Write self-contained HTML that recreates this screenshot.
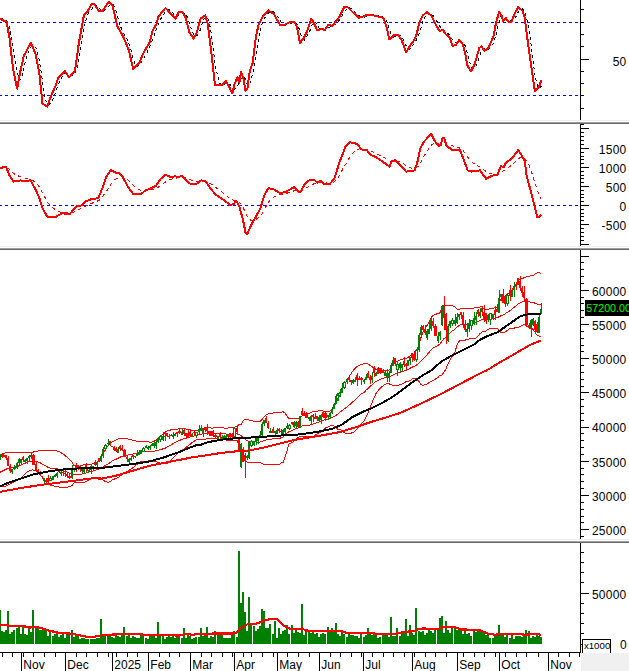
<!DOCTYPE html>
<html><head><meta charset="utf-8"><title>chart</title>
<style>
html,body{margin:0;padding:0;background:#fff;}
body{width:629px;height:671px;overflow:hidden;font-family:"Liberation Sans",sans-serif;}
svg{display:block;font-family:"Liberation Sans",sans-serif;}
</style></head><body>
<svg width="629" height="671" viewBox="0 0 629 671" shape-rendering="crispEdges">
<rect x="0" y="0" width="629" height="671" fill="#fff"/>
<rect x="0" y="120" width="629" height="1" fill="#f0f0f0"/>
<rect x="0" y="121" width="629" height="1" fill="#ffffff"/>
<rect x="0" y="122" width="629" height="1" fill="#a0a0a0"/>
<rect x="0" y="123" width="629" height="1" fill="#696969"/>
<rect x="0" y="246" width="629" height="1" fill="#f0f0f0"/>
<rect x="0" y="247" width="629" height="1" fill="#ffffff"/>
<rect x="0" y="248" width="629" height="1" fill="#a0a0a0"/>
<rect x="0" y="249" width="629" height="1" fill="#696969"/>
<rect x="0" y="539" width="629" height="1" fill="#f0f0f0"/>
<rect x="0" y="540" width="629" height="1" fill="#ffffff"/>
<rect x="0" y="541" width="629" height="1" fill="#a0a0a0"/>
<rect x="0" y="542" width="629" height="1" fill="#696969"/>
<rect x="580" y="0" width="1" height="120" fill="#000"/>
<rect x="581" y="9" width="3" height="1" fill="#000"/>
<rect x="581" y="22" width="3" height="1" fill="#000"/>
<rect x="581" y="34" width="3" height="1" fill="#000"/>
<rect x="581" y="46" width="3" height="1" fill="#000"/>
<rect x="581" y="71" width="3" height="1" fill="#000"/>
<rect x="581" y="83" width="3" height="1" fill="#000"/>
<rect x="581" y="95" width="3" height="1" fill="#000"/>
<rect x="581" y="108" width="3" height="1" fill="#000"/>
<rect x="581" y="59" width="8" height="1" fill="#000"/>
<text x="626.55" y="65.6" font-size="12" text-anchor="end" fill="#000"  letter-spacing="0.25">50</text>
<line x1="0" y1="22.5" x2="580" y2="22.5" stroke="#0000ff" stroke-width="1" stroke-dasharray="3 3" stroke-dashoffset="1"/>
<line x1="0" y1="95.5" x2="580" y2="95.5" stroke="#0000ff" stroke-width="1" stroke-dasharray="3 3" stroke-dashoffset="1"/>
<polyline points="0.5,18.6 2.5,19.0 4.5,19.7 6.5,20.7 8.5,23.9 10.5,31.2 12.5,43.9 14.5,58.6 17.5,73.7 19.5,80.0 21.5,78.3 23.5,68.9 25.5,60.6 27.5,54.4 29.5,50.0 31.5,46.2 33.5,45.5 36.5,48.7 38.5,56.7 40.5,67.4 42.5,81.7 44.5,94.4 46.5,103.1 48.5,105.0 50.5,103.1 53.5,98.3 55.5,92.5 57.5,86.7 59.5,81.9 61.5,77.8 63.5,74.9 65.5,73.1 67.5,72.8 69.5,74.2 72.5,75.2 74.5,74.4 76.5,69.9 78.5,61.6 80.5,50.0 82.5,37.4 84.5,26.1 86.5,18.3 88.5,13.1 91.5,9.7 93.5,6.5 95.5,4.8 97.5,5.9 99.5,8.3 101.5,10.2 103.5,11.0 105.5,9.7 108.5,6.9 110.5,4.5 112.5,3.8 114.5,6.9 116.5,12.7 118.5,20.0 120.5,26.3 122.5,30.9 124.5,34.7 127.5,39.6 129.5,45.1 131.5,52.1 133.5,59.6 135.5,64.9 137.5,66.7 139.5,64.9 141.5,62.2 143.5,58.6 146.5,53.8 148.5,49.3 150.5,45.2 152.5,39.9 154.5,34.3 156.5,28.7 158.5,23.8 160.5,19.2 163.5,14.5 165.5,11.4 167.5,9.7 169.5,9.9 171.5,11.7 173.5,13.8 175.5,16.0 177.5,16.5 179.5,15.3 182.5,13.3 184.5,13.1 186.5,15.2 188.5,20.1 190.5,26.2 192.5,32.1 194.5,35.7 196.5,36.1 199.5,32.1 201.5,25.7 203.5,19.9 205.5,17.0 207.5,18.0 209.5,23.6 211.5,34.9 213.5,50.3 215.5,67.3 218.5,79.1 220.5,85.0 222.5,85.1 224.5,84.3 226.5,83.1 228.5,83.0 230.5,84.9 232.5,88.8 234.5,89.3 237.5,86.0 239.5,82.3 241.5,77.5 243.5,77.1 245.5,79.2 247.5,85.0 249.5,84.8 251.5,78.0 254.5,65.6 256.5,52.2 258.5,38.7 260.5,28.6 262.5,22.5 264.5,18.3 266.5,15.2 268.5,12.8 270.5,11.7 273.5,11.9 275.5,13.7 277.5,16.4 279.5,19.6 281.5,22.7 283.5,24.6 285.5,25.1 287.5,24.6 289.5,23.6 292.5,22.8 294.5,22.3 296.5,23.1 298.5,26.7 300.5,33.6 302.5,38.7 304.5,40.2 306.5,37.0 309.5,32.1 311.5,26.0 313.5,22.0 315.5,22.0 317.5,25.6 319.5,28.5 321.5,29.7 323.5,29.5 325.5,29.5 328.5,28.1 330.5,26.8 332.5,25.4 334.5,24.9 336.5,23.5 338.5,21.1 340.5,18.4 342.5,15.2 344.5,11.4 347.5,8.7 349.5,7.7 351.5,8.7 353.5,10.4 355.5,12.4 357.5,14.2 359.5,16.0 361.5,17.0 364.5,17.0 366.5,16.2 368.5,15.6 370.5,15.2 372.5,15.0 374.5,15.1 376.5,15.5 378.5,16.0 380.5,16.5 383.5,17.1 385.5,19.0 387.5,23.1 389.5,29.7 391.5,34.9 393.5,37.1 395.5,36.1 397.5,35.0 400.5,35.6 402.5,37.7 404.5,41.8 406.5,46.6 408.5,49.3 410.5,49.0 412.5,45.9 414.5,43.1 416.5,39.7 419.5,33.2 421.5,26.1 423.5,19.4 425.5,16.0 427.5,13.6 429.5,13.1 431.5,13.7 433.5,16.1 435.5,19.3 438.5,23.6 440.5,27.5 442.5,29.8 444.5,30.8 446.5,32.1 448.5,34.0 450.5,36.4 452.5,39.7 455.5,42.8 457.5,44.4 459.5,42.9 461.5,41.9 463.5,42.6 465.5,46.6 467.5,53.7 469.5,61.4 471.5,67.7 474.5,68.4 476.5,65.5 478.5,59.2 480.5,53.2 482.5,49.0 484.5,48.3 486.5,49.0 488.5,49.5 490.5,47.4 493.5,43.3 495.5,36.7 497.5,28.3 499.5,20.0 501.5,15.4 503.5,15.8 505.5,17.9 507.5,19.7 510.5,20.1 512.5,20.6 514.5,19.0 516.5,15.6 518.5,11.4 520.5,9.2 522.5,8.9 524.5,11.7 526.5,18.1 529.5,31.4 531.5,47.7 533.5,64.4 535.5,78.0 537.5,86.1 539.5,89.0 541.5,85.7" fill="none" stroke="#000" stroke-width="1" stroke-dasharray="3 3"/>
<polyline points="0.0,18.6 2.9,20.3 6.7,21.9 9.5,38.2 13.1,69.2 17.2,88.7 20.3,71.5 23.8,56.0 31.0,42.5 35.8,54.9 39.4,73.9 42.5,103.7 47.2,106.6 51.3,95.4 56.0,84.7 58.4,77.5 64.9,71.1 69.2,77.5 75.1,70.4 78.7,44.1 83.9,15.5 87.0,12.4 91.8,3.6 94.2,4.3 99.0,11.2 102.6,11.2 108.5,1.9 112.6,6.0 117.3,26.2 122.8,35.8 128.8,50.1 133.1,68.7 139.5,62.5 143.1,53.7 150.0,41.7 152.4,31.0 156.7,23.8 158.3,16.7 165.5,7.9 170.3,13.1 175.5,18.6 178.6,12.4 182.2,11.9 185.8,17.9 189.4,32.2 193.4,38.6 196.5,33.4 200.6,18.6 205.3,15.5 207.7,23.8 210.8,47.7 214.9,84.7 221.5,85.4 225.8,81.1 228.7,85.9 232.3,93.5 234.7,83.5 237.5,77.5 239.4,83.0 241.1,71.5 243.5,78.7 245.4,90.6 247.3,89.4 249.7,71.5 252.6,63.2 256.1,35.8 258.5,25.0 263.3,15.5 268.5,10.3 274.0,14.3 280.0,25.0 283.6,25.5 289.5,22.2 294.3,22.2 296.7,26.2 300.0,42.9 303.6,38.2 307.2,31.0 311.2,18.6 313.8,22.7 317.2,30.5 321.5,29.1 325.0,29.8 328.1,25.0 332.2,25.8 335.8,21.5 339.4,16.7 344.1,7.2 347.7,7.2 353.7,13.1 359.1,17.9 365.6,15.5 371.5,14.8 378.7,16.7 383.5,17.9 386.3,26.2 389.4,39.4 394.2,34.6 397.8,34.6 401.4,39.4 406.1,52.5 410.2,45.3 414.0,40.5 416.9,33.4 419.2,22.7 422.8,15.5 426.9,11.9 431.2,15.5 434.7,22.7 439.5,31.0 442.9,29.8 446.0,34.6 449.5,37.0 452.4,45.8 455.5,45.3 459.1,40.1 462.7,44.1 465.0,52.5 467.4,65.6 471.0,71.5 474.6,64.4 479.4,47.7 481.7,46.5 484.1,50.6 487.7,48.9 490.1,44.1 493.7,35.8 496.0,22.7 499.1,11.9 501.5,15.5 503.2,21.0 505.6,17.9 508.0,21.5 511.5,21.5 514.4,14.3 518.2,7.2 522.3,10.7 524.7,17.9 527.0,35.8 530.6,62.0 534.9,91.1 539.0,87.0 541.4,79.9" fill="none" stroke="#ff0000" stroke-width="2" stroke-linejoin="round"/>
<rect x="580" y="124" width="1" height="122" fill="#000"/>
<rect x="581" y="244" width="8" height="1" fill="#000"/>
<rect x="581" y="240" width="3" height="1" fill="#000"/>
<rect x="581" y="236" width="3" height="1" fill="#000"/>
<rect x="581" y="232" width="3" height="1" fill="#000"/>
<rect x="581" y="228" width="3" height="1" fill="#000"/>
<rect x="581" y="224" width="8" height="1" fill="#000"/>
<rect x="581" y="220" width="3" height="1" fill="#000"/>
<rect x="581" y="216" width="3" height="1" fill="#000"/>
<rect x="581" y="213" width="3" height="1" fill="#000"/>
<rect x="581" y="209" width="3" height="1" fill="#000"/>
<rect x="581" y="205" width="8" height="1" fill="#000"/>
<rect x="581" y="201" width="3" height="1" fill="#000"/>
<rect x="581" y="197" width="3" height="1" fill="#000"/>
<rect x="581" y="194" width="3" height="1" fill="#000"/>
<rect x="581" y="190" width="3" height="1" fill="#000"/>
<rect x="581" y="186" width="8" height="1" fill="#000"/>
<rect x="581" y="182" width="3" height="1" fill="#000"/>
<rect x="581" y="178" width="3" height="1" fill="#000"/>
<rect x="581" y="175" width="3" height="1" fill="#000"/>
<rect x="581" y="171" width="3" height="1" fill="#000"/>
<rect x="581" y="167" width="8" height="1" fill="#000"/>
<rect x="581" y="163" width="3" height="1" fill="#000"/>
<rect x="581" y="159" width="3" height="1" fill="#000"/>
<rect x="581" y="156" width="3" height="1" fill="#000"/>
<rect x="581" y="152" width="3" height="1" fill="#000"/>
<rect x="581" y="148" width="8" height="1" fill="#000"/>
<rect x="581" y="144" width="3" height="1" fill="#000"/>
<rect x="581" y="140" width="3" height="1" fill="#000"/>
<rect x="581" y="136" width="3" height="1" fill="#000"/>
<rect x="581" y="132" width="3" height="1" fill="#000"/>
<rect x="581" y="128" width="8" height="1" fill="#000"/>
<rect x="581" y="124" width="3" height="1" fill="#000"/>
<text x="626.55" y="153.7" font-size="12" text-anchor="end" fill="#000"  letter-spacing="0.25">1500</text>
<text x="626.55" y="172.7" font-size="12" text-anchor="end" fill="#000"  letter-spacing="0.25">1000</text>
<text x="626.55" y="191.7" font-size="12" text-anchor="end" fill="#000"  letter-spacing="0.25">500</text>
<text x="626.55" y="210.7" font-size="12" text-anchor="end" fill="#000"  letter-spacing="0.25">0</text>
<text x="626.55" y="229.7" font-size="12" text-anchor="end" fill="#000"  letter-spacing="0.25">-500</text>
<line x1="0" y1="205.5" x2="580" y2="205.5" stroke="#0000ff" stroke-width="1" stroke-dasharray="3 3" stroke-dashoffset="1"/>
<polyline points="0.0,167.7 2.0,167.7 4.0,167.6 6.0,167.4 8.0,168.3 10.0,169.9 12.0,171.8 14.0,173.7 17.0,175.2 19.0,176.3 21.0,177.1 23.0,177.9 25.0,178.4 27.0,178.9 29.0,179.2 31.0,179.6 33.0,180.7 36.0,182.6 38.0,185.1 40.0,188.1 42.0,191.8 44.0,195.6 46.0,199.4 48.0,202.9 50.0,205.6 53.0,207.8 55.0,209.6 57.0,210.9 59.0,211.7 61.0,212.2 63.0,212.4 65.0,212.6 67.0,212.9 69.0,213.2 72.0,212.9 74.0,212.1 76.0,211.1 78.0,210.0 80.0,209.1 82.0,208.3 84.0,207.2 86.0,206.0 88.0,204.9 91.0,203.8 93.0,202.8 95.0,202.0 97.0,201.3 99.0,200.3 101.0,198.6 103.0,196.1 105.0,193.0 108.0,189.2 110.0,185.7 112.0,182.7 114.0,180.5 116.0,178.9 118.0,177.8 120.0,177.0 122.0,176.8 124.0,177.3 127.0,178.9 129.0,180.8 131.0,182.8 133.0,184.9 135.0,186.8 137.0,188.3 139.0,189.5 141.0,190.4 143.0,190.8 146.0,190.7 148.0,190.5 150.0,190.1 152.0,189.7 154.0,189.1 156.0,188.5 158.0,187.3 160.0,185.9 163.0,184.1 165.0,182.3 167.0,181.0 169.0,180.0 171.0,179.4 173.0,178.8 175.0,178.4 177.0,178.0 179.0,177.8 182.0,177.4 184.0,177.4 186.0,177.9 188.0,178.7 190.0,179.7 192.0,180.5 194.0,181.2 196.0,181.7 199.0,181.8 201.0,181.6 203.0,181.4 205.0,181.3 207.0,181.7 209.0,182.6 211.0,183.9 213.0,185.4 215.0,187.1 218.0,188.9 220.0,190.6 222.0,192.2 224.0,193.8 226.0,195.4 228.0,197.0 230.0,198.6 232.0,199.7 234.0,200.5 237.0,200.8 239.0,201.9 241.0,204.0 243.0,207.2 245.0,211.7 247.0,216.2 249.0,219.0 251.0,220.3 254.0,220.2 256.0,219.4 258.0,218.1 260.0,216.4 262.0,213.7 264.0,210.2 266.0,206.6 268.0,203.1 270.0,200.2 273.0,198.0 275.0,196.4 277.0,195.4 279.0,194.8 281.0,194.4 283.0,194.0 285.0,193.6 287.0,193.2 289.0,192.5 292.0,191.7 294.0,190.8 296.0,190.3 298.0,190.4 300.0,190.8 302.0,190.5 304.0,189.5 306.0,188.2 309.0,186.6 311.0,185.3 313.0,184.2 315.0,183.4 317.0,183.3 319.0,182.9 321.0,182.6 323.0,182.7 325.0,182.9 328.0,183.1 330.0,183.3 332.0,182.9 334.0,182.0 336.0,180.3 338.0,177.7 340.0,174.3 342.0,170.6 344.0,166.6 347.0,162.3 349.0,158.5 351.0,155.3 353.0,152.8 355.0,151.0 357.0,149.5 359.0,148.9 361.0,148.8 364.0,149.0 366.0,149.2 368.0,149.7 370.0,150.6 372.0,151.6 374.0,152.6 376.0,153.5 378.0,154.5 380.0,155.6 383.0,156.8 385.0,158.1 387.0,159.5 389.0,160.8 391.0,161.3 393.0,161.2 395.0,161.1 397.0,161.2 400.0,161.9 402.0,162.9 404.0,164.1 406.0,165.6 408.0,166.8 410.0,167.6 412.0,168.2 414.0,168.7 416.0,168.2 419.0,165.5 421.0,161.8 423.0,158.1 425.0,154.6 427.0,151.4 429.0,148.3 431.0,145.5 433.0,143.9 435.0,143.4 438.0,143.8 440.0,144.2 442.0,143.3 444.0,142.3 446.0,142.8 448.0,143.7 450.0,144.6 452.0,145.6 455.0,146.5 457.0,147.1 459.0,147.6 461.0,148.6 463.0,150.5 465.0,153.0 467.0,156.1 469.0,159.1 471.0,161.5 474.0,163.5 476.0,165.0 478.0,166.1 480.0,167.0 482.0,168.2 484.0,169.8 486.0,171.6 488.0,172.8 490.0,173.6 493.0,174.0 495.0,174.2 497.0,174.4 499.0,173.7 501.0,172.2 503.0,171.2 505.0,169.8 507.0,168.3 510.0,166.5 512.0,164.8 514.0,163.0 516.0,161.0 518.0,158.9 520.0,157.6 522.0,157.3 524.0,157.7 526.0,160.3 529.0,165.2 531.0,170.5 533.0,176.5 535.0,182.8 537.0,189.5 539.0,195.0 541.0,199.0" fill="none" stroke="#ff0000" stroke-width="1" stroke-dasharray="3.6 3.4"/>
<polyline points="0.0,168.5 2.9,167.3 6.0,166.8 9.5,175.7 13.8,181.6 20.3,180.4 23.8,180.9 30.5,180.4 35.8,190.0 39.4,198.3 42.9,209.0 47.2,216.7 56.0,216.7 62.5,213.1 69.2,214.5 76.8,206.0 81.1,205.5 85.9,201.4 91.8,199.0 98.3,198.3 102.6,187.6 106.1,176.9 110.9,170.2 115.7,172.6 119.2,173.3 122.8,176.9 127.6,186.4 133.6,194.3 140.7,194.3 145.5,190.4 150.0,188.8 156.0,185.9 160.7,178.8 165.5,174.9 170.3,176.9 175.0,176.4 178.6,176.9 182.2,175.7 189.4,183.5 196.5,184.0 201.3,180.4 205.3,180.9 210.8,188.8 215.6,194.7 221.5,198.3 229.9,204.8 233.5,204.3 236.3,200.7 239.4,206.7 243.0,219.8 245.4,232.2 247.3,234.1 251.4,224.6 256.1,216.2 260.2,209.0 264.5,194.7 268.5,188.1 274.0,189.5 280.0,193.1 285.9,191.9 294.3,186.9 300.0,192.6 304.8,184.0 309.5,180.0 314.3,179.7 317.2,182.8 320.3,180.7 324.3,184.0 329.8,184.0 334.6,178.0 339.4,162.5 345.3,147.0 350.1,142.3 357.2,143.9 361.5,149.4 366.8,150.1 370.4,154.9 376.3,157.3 382.3,161.4 389.4,166.6 391.8,161.4 395.4,160.2 401.4,166.1 406.1,171.6 414.5,170.4 417.3,162.5 420.4,148.2 424.0,141.6 431.2,133.9 434.7,141.1 438.3,145.8 440.7,145.4 442.4,138.2 444.3,138.2 446.2,145.8 452.7,150.1 459.8,149.4 463.4,159.0 467.7,170.4 471.7,171.6 480.1,170.4 486.0,178.8 492.0,175.7 497.5,174.9 500.8,166.1 503.5,167.3 505.8,163.0 512.3,157.8 518.2,150.1 521.8,155.4 524.9,161.4 526.6,175.7 531.4,193.5 534.9,207.9 537.3,217.4 539.7,216.9 541.4,214.5" fill="none" stroke="#ff0000" stroke-width="2" stroke-linejoin="round"/>
<rect x="580" y="250" width="1" height="289" fill="#000"/>
<rect x="581" y="536" width="3" height="1" fill="#000"/>
<rect x="581" y="529" width="8" height="1" fill="#000"/>
<rect x="581" y="522" width="3" height="1" fill="#000"/>
<rect x="581" y="516" width="3" height="1" fill="#000"/>
<rect x="581" y="509" width="3" height="1" fill="#000"/>
<rect x="581" y="502" width="3" height="1" fill="#000"/>
<rect x="581" y="495" width="8" height="1" fill="#000"/>
<rect x="581" y="488" width="3" height="1" fill="#000"/>
<rect x="581" y="481" width="3" height="1" fill="#000"/>
<rect x="581" y="474" width="3" height="1" fill="#000"/>
<rect x="581" y="468" width="3" height="1" fill="#000"/>
<rect x="581" y="461" width="8" height="1" fill="#000"/>
<rect x="581" y="454" width="3" height="1" fill="#000"/>
<rect x="581" y="447" width="3" height="1" fill="#000"/>
<rect x="581" y="440" width="3" height="1" fill="#000"/>
<rect x="581" y="433" width="3" height="1" fill="#000"/>
<rect x="581" y="427" width="8" height="1" fill="#000"/>
<rect x="581" y="420" width="3" height="1" fill="#000"/>
<rect x="581" y="413" width="3" height="1" fill="#000"/>
<rect x="581" y="406" width="3" height="1" fill="#000"/>
<rect x="581" y="399" width="3" height="1" fill="#000"/>
<rect x="581" y="392" width="8" height="1" fill="#000"/>
<rect x="581" y="386" width="3" height="1" fill="#000"/>
<rect x="581" y="379" width="3" height="1" fill="#000"/>
<rect x="581" y="372" width="3" height="1" fill="#000"/>
<rect x="581" y="365" width="3" height="1" fill="#000"/>
<rect x="581" y="358" width="8" height="1" fill="#000"/>
<rect x="581" y="351" width="3" height="1" fill="#000"/>
<rect x="581" y="345" width="3" height="1" fill="#000"/>
<rect x="581" y="338" width="3" height="1" fill="#000"/>
<rect x="581" y="331" width="3" height="1" fill="#000"/>
<rect x="581" y="324" width="8" height="1" fill="#000"/>
<rect x="581" y="317" width="3" height="1" fill="#000"/>
<rect x="581" y="310" width="3" height="1" fill="#000"/>
<rect x="581" y="303" width="3" height="1" fill="#000"/>
<rect x="581" y="297" width="3" height="1" fill="#000"/>
<rect x="581" y="290" width="8" height="1" fill="#000"/>
<rect x="581" y="283" width="3" height="1" fill="#000"/>
<rect x="581" y="276" width="3" height="1" fill="#000"/>
<rect x="581" y="269" width="3" height="1" fill="#000"/>
<rect x="581" y="262" width="3" height="1" fill="#000"/>
<rect x="581" y="256" width="8" height="1" fill="#000"/>
<text x="626.55" y="534.9999999999999" font-size="12" text-anchor="end" fill="#000"  letter-spacing="0.25">25000</text>
<text x="626.55" y="500.79999999999995" font-size="12" text-anchor="end" fill="#000"  letter-spacing="0.25">30000</text>
<text x="626.55" y="466.59999999999997" font-size="12" text-anchor="end" fill="#000"  letter-spacing="0.25">35000</text>
<text x="626.55" y="432.4" font-size="12" text-anchor="end" fill="#000"  letter-spacing="0.25">40000</text>
<text x="626.55" y="398.19999999999993" font-size="12" text-anchor="end" fill="#000"  letter-spacing="0.25">45000</text>
<text x="626.55" y="363.99999999999994" font-size="12" text-anchor="end" fill="#000"  letter-spacing="0.25">50000</text>
<text x="626.55" y="329.79999999999995" font-size="12" text-anchor="end" fill="#000"  letter-spacing="0.25">55000</text>
<text x="626.55" y="295.59999999999997" font-size="12" text-anchor="end" fill="#000"  letter-spacing="0.25">60000</text>
<polyline points="0.0,457.8 2.0,455.5 4.0,453.7 6.0,452.4 8.0,452.2 10.0,452.4 12.0,452.5 14.0,452.6 17.0,452.6 19.0,452.2 21.0,452.0 23.0,452.1 25.0,452.4 27.0,452.7 29.0,452.5 31.0,452.0 33.0,452.1 36.0,451.5 38.0,451.0 40.0,450.6 42.0,450.5 44.0,450.5 46.0,450.5 48.0,450.7 50.0,450.7 53.0,450.7 55.0,450.7 57.0,450.9 59.0,451.5 61.0,452.7 63.0,454.0 65.0,455.5 67.0,457.1 69.0,459.3 72.0,462.0 74.0,465.7 76.0,466.7 78.0,466.4 80.0,466.0 82.0,465.4 84.0,464.7 86.0,464.3 88.0,464.2 91.0,464.2 93.0,463.8 95.0,463.2 97.0,462.3 99.0,460.8 101.0,458.4 103.0,454.2 105.0,449.9 108.0,445.9 110.0,443.5 112.0,442.2 114.0,441.0 116.0,440.2 118.0,439.1 120.0,438.3 122.0,438.0 124.0,438.3 127.0,438.7 129.0,439.2 131.0,439.7 133.0,440.3 135.0,440.8 137.0,441.4 139.0,441.9 141.0,442.0 143.0,441.7 146.0,441.3 148.0,441.7 150.0,442.3 152.0,442.0 154.0,441.3 156.0,440.1 158.0,438.2 160.0,436.1 163.0,434.2 165.0,432.4 167.0,431.1 169.0,430.4 171.0,429.9 173.0,429.5 175.0,429.2 177.0,429.1 179.0,428.9 182.0,428.6 184.0,428.7 186.0,429.0 188.0,429.2 190.0,429.9 192.0,430.4 194.0,430.6 196.0,431.0 199.0,430.5 201.0,429.4 203.0,428.6 205.0,428.1 207.0,427.8 209.0,427.9 211.0,428.0 213.0,428.0 215.0,427.9 218.0,427.9 220.0,427.8 222.0,427.8 224.0,428.0 226.0,428.0 228.0,428.0 230.0,427.9 232.0,427.9 234.0,427.1 237.0,426.9 239.0,424.2 241.0,424.7 243.0,420.9 245.0,419.2 247.0,419.1 249.0,420.1 251.0,420.7 254.0,421.2 256.0,421.4 258.0,421.5 260.0,421.4 262.0,419.4 264.0,416.7 266.0,414.9 268.0,414.0 270.0,413.4 273.0,413.0 275.0,412.6 277.0,412.9 279.0,412.9 281.0,412.5 283.0,411.7 285.0,413.2 287.0,415.7 289.0,419.0 292.0,418.8 294.0,418.3 296.0,418.5 298.0,418.9 300.0,417.5 302.0,416.0 304.0,414.8 306.0,414.3 309.0,413.5 311.0,412.3 313.0,411.6 315.0,411.4 317.0,411.2 319.0,410.9 321.0,410.6 323.0,411.0 325.0,411.4 328.0,411.4 330.0,411.0 332.0,409.8 334.0,407.5 336.0,402.7 338.0,398.5 340.0,395.2 342.0,390.8 344.0,385.6 347.0,380.6 349.0,376.8 351.0,373.8 353.0,370.9 355.0,368.5 357.0,366.7 359.0,365.5 361.0,364.5 364.0,363.8 366.0,363.3 368.0,363.9 370.0,365.3 372.0,366.7 374.0,368.0 376.0,369.5 378.0,370.0 380.0,370.3 383.0,371.0 385.0,370.9 387.0,370.5 389.0,370.0 391.0,367.6 393.0,364.3 395.0,362.5 397.0,361.3 400.0,360.1 402.0,359.3 404.0,358.8 406.0,358.7 408.0,357.4 410.0,356.0 412.0,355.4 414.0,354.8 416.0,352.0 419.0,345.1 421.0,337.4 423.0,332.2 425.0,328.7 427.0,325.5 429.0,322.6 431.0,318.3 433.0,315.5 435.0,314.4 438.0,313.6 440.0,312.8 442.0,307.0 444.0,305.0 446.0,305.3 448.0,306.0 450.0,305.8 452.0,305.8 455.0,306.8 457.0,308.9 459.0,309.5 461.0,308.6 463.0,308.4 465.0,308.4 467.0,308.6 469.0,308.5 471.0,308.2 474.0,308.0 476.0,307.3 478.0,307.1 480.0,307.0 482.0,306.6 484.0,309.0 486.0,309.1 488.0,309.2 490.0,308.7 493.0,308.2 495.0,307.9 497.0,307.3 499.0,303.1 501.0,298.7 503.0,297.2 505.0,296.1 507.0,294.2 510.0,293.0 512.0,290.1 514.0,286.6 516.0,283.9 518.0,281.1 520.0,279.2 522.0,278.3 524.0,277.9 526.0,277.1 529.0,276.2 531.0,275.9 533.0,275.6 535.0,274.2 537.0,272.8 539.0,272.7 541.0,273.4" fill="none" stroke="#ff0000" stroke-width="1" />
<polyline points="0.0,472.3 2.0,471.2 4.0,470.2 6.0,469.2 8.0,468.5 10.0,468.2 12.0,467.8 14.0,467.3 17.0,466.6 19.0,465.8 21.0,464.9 23.0,464.1 25.0,463.2 27.0,462.5 29.0,461.7 31.0,461.0 33.0,461.0 36.0,461.3 38.0,461.9 40.0,462.8 42.0,463.8 44.0,465.0 46.0,466.2 48.0,467.3 50.0,468.0 53.0,468.2 55.0,468.5 57.0,468.8 59.0,469.2 61.0,469.9 63.0,470.5 65.0,471.3 67.0,472.1 69.0,473.1 72.0,473.7 74.0,474.3 76.0,474.5 78.0,474.4 80.0,474.3 82.0,474.0 84.0,473.5 86.0,472.9 88.0,472.2 91.0,471.5 93.0,470.9 95.0,470.3 97.0,469.7 99.0,469.1 101.0,468.3 103.0,467.1 105.0,465.7 108.0,464.1 110.0,462.6 112.0,461.1 114.0,460.1 116.0,459.3 118.0,458.3 120.0,457.3 122.0,456.3 124.0,455.7 127.0,455.3 129.0,454.8 131.0,454.4 133.0,453.9 135.0,453.4 137.0,452.9 139.0,452.3 141.0,451.8 143.0,451.4 146.0,451.2 148.0,451.4 150.0,451.5 152.0,451.4 154.0,451.2 156.0,450.8 158.0,450.2 160.0,449.6 163.0,448.9 165.0,448.2 167.0,447.2 169.0,446.1 171.0,444.9 173.0,443.8 175.0,442.6 177.0,441.5 179.0,440.5 182.0,439.5 184.0,438.7 186.0,438.1 188.0,437.7 190.0,437.1 192.0,436.5 194.0,436.0 196.0,435.5 199.0,434.8 201.0,434.2 203.0,433.9 205.0,433.6 207.0,433.4 209.0,433.3 211.0,433.2 213.0,433.2 215.0,433.3 218.0,433.3 220.0,433.5 222.0,433.7 224.0,433.9 226.0,434.0 228.0,434.0 230.0,434.1 232.0,434.1 234.0,433.8 237.0,433.7 239.0,434.7 241.0,435.4 243.0,437.3 245.0,439.1 247.0,440.7 249.0,441.2 251.0,441.6 254.0,441.9 256.0,442.0 258.0,442.1 260.0,442.0 262.0,441.4 264.0,440.5 266.0,439.9 268.0,439.5 270.0,439.2 273.0,438.9 275.0,438.7 277.0,438.8 279.0,438.8 281.0,437.8 283.0,437.1 285.0,435.2 287.0,433.3 289.0,431.5 292.0,430.6 294.0,429.7 296.0,428.7 298.0,428.1 300.0,427.0 302.0,426.1 304.0,425.7 306.0,425.5 309.0,425.2 311.0,424.7 313.0,424.0 315.0,423.3 317.0,422.7 319.0,422.0 321.0,421.2 323.0,420.4 325.0,419.8 328.0,419.2 330.0,418.5 332.0,417.7 334.0,416.6 336.0,415.3 338.0,413.9 340.0,412.1 342.0,410.7 344.0,409.0 347.0,407.1 349.0,405.3 351.0,403.5 353.0,401.7 355.0,399.8 357.0,397.9 359.0,395.9 361.0,394.1 364.0,392.4 366.0,390.3 368.0,388.4 370.0,386.6 372.0,384.8 374.0,383.0 376.0,381.4 378.0,380.4 380.0,379.3 383.0,378.4 385.0,377.6 387.0,377.2 389.0,376.9 391.0,376.1 393.0,375.0 395.0,374.1 397.0,373.4 400.0,372.5 402.0,371.7 404.0,370.9 406.0,370.2 408.0,369.4 410.0,368.3 412.0,367.2 414.0,366.4 416.0,365.3 419.0,363.3 421.0,361.0 423.0,358.8 425.0,356.8 427.0,354.8 429.0,352.6 431.0,350.0 433.0,348.0 435.0,346.8 438.0,345.5 440.0,343.9 442.0,341.0 444.0,338.7 446.0,337.0 448.0,335.0 450.0,333.0 452.0,331.2 455.0,329.3 457.0,327.2 459.0,325.4 461.0,324.4 463.0,324.2 465.0,324.3 467.0,324.1 469.0,323.7 471.0,323.2 474.0,323.1 476.0,322.7 478.0,321.6 480.0,320.4 482.0,319.3 484.0,320.0 486.0,320.1 488.0,319.4 490.0,318.7 493.0,318.4 495.0,318.1 497.0,317.7 499.0,316.7 501.0,315.7 503.0,315.1 505.0,314.1 507.0,312.4 510.0,310.7 512.0,309.1 514.0,307.4 516.0,305.8 518.0,304.2 520.0,302.9 522.0,301.9 524.0,301.2 526.0,301.5 529.0,301.9 531.0,302.1 533.0,302.4 535.0,303.2 537.0,304.1 539.0,304.3 541.0,304.9" fill="none" stroke="#ff0000" stroke-width="1" />
<polyline points="0.0,486.9 2.0,487.0 4.0,486.6 6.0,486.0 8.0,484.9 10.0,484.1 12.0,483.1 14.0,482.0 17.0,480.7 19.0,479.3 21.0,477.8 23.0,476.1 25.0,474.0 27.0,472.2 29.0,470.9 31.0,470.1 33.0,469.9 36.0,471.1 38.0,472.9 40.0,475.0 42.0,477.2 44.0,479.5 46.0,481.9 48.0,484.0 50.0,485.2 53.0,485.7 55.0,486.2 57.0,486.6 59.0,487.0 61.0,487.1 63.0,487.1 65.0,487.1 67.0,487.1 69.0,486.9 72.0,485.4 74.0,482.9 76.0,482.4 78.0,482.5 80.0,482.6 82.0,482.6 84.0,482.3 86.0,481.6 88.0,480.3 91.0,478.8 93.0,478.0 95.0,477.5 97.0,477.2 99.0,477.4 101.0,478.2 103.0,480.0 105.0,481.5 108.0,482.4 110.0,481.7 112.0,479.9 114.0,479.2 116.0,478.5 118.0,477.5 120.0,476.2 122.0,474.7 124.0,473.2 127.0,471.8 129.0,470.5 131.0,469.0 133.0,467.6 135.0,466.0 137.0,464.4 139.0,462.8 141.0,461.6 143.0,461.1 146.0,461.2 148.0,461.1 150.0,460.7 152.0,460.9 154.0,461.2 156.0,461.6 158.0,462.2 160.0,463.0 163.0,463.7 165.0,464.0 167.0,463.3 169.0,461.7 171.0,459.9 173.0,458.1 175.0,456.1 177.0,454.0 179.0,452.1 182.0,450.4 184.0,448.8 186.0,447.3 188.0,446.1 190.0,444.3 192.0,442.7 194.0,441.4 196.0,439.9 199.0,439.1 201.0,439.1 203.0,439.2 205.0,439.1 207.0,438.9 209.0,438.7 211.0,438.4 213.0,438.4 215.0,438.6 218.0,438.8 220.0,439.2 222.0,439.6 224.0,439.8 226.0,440.0 228.0,440.1 230.0,440.2 232.0,440.3 234.0,440.6 237.0,440.5 239.0,445.1 241.0,446.2 243.0,453.8 245.0,459.0 247.0,462.3 249.0,462.4 251.0,462.5 254.0,462.6 256.0,462.6 258.0,462.6 260.0,462.6 262.0,463.4 264.0,464.4 266.0,464.8 268.0,464.9 270.0,464.9 273.0,464.8 275.0,464.7 277.0,464.7 279.0,464.7 281.0,463.1 283.0,462.5 285.0,457.3 287.0,450.9 289.0,444.0 292.0,442.5 294.0,441.1 296.0,438.9 298.0,437.3 300.0,436.5 302.0,436.1 304.0,436.5 306.0,436.7 309.0,437.0 311.0,437.0 313.0,436.4 315.0,435.2 317.0,434.1 319.0,433.1 321.0,431.8 323.0,429.9 325.0,428.2 328.0,426.9 330.0,426.0 332.0,425.5 334.0,425.8 336.0,427.9 338.0,429.3 340.0,429.0 342.0,430.6 344.0,432.4 347.0,433.7 349.0,433.8 351.0,433.2 353.0,432.5 355.0,431.2 357.0,429.1 359.0,426.4 361.0,423.8 364.0,420.9 366.0,417.4 368.0,412.8 370.0,407.9 372.0,402.9 374.0,398.0 376.0,393.4 378.0,390.8 380.0,388.4 383.0,385.8 385.0,384.3 387.0,383.8 389.0,383.8 391.0,384.5 393.0,385.6 395.0,385.7 397.0,385.4 400.0,384.9 402.0,384.1 404.0,383.0 406.0,381.7 408.0,381.3 410.0,380.7 412.0,379.0 414.0,378.0 416.0,378.5 419.0,381.5 421.0,384.6 423.0,385.4 425.0,384.8 427.0,384.0 429.0,382.6 431.0,381.6 433.0,380.5 435.0,379.3 438.0,377.4 440.0,375.0 442.0,375.0 444.0,372.4 446.0,368.7 448.0,363.9 450.0,360.2 452.0,356.5 455.0,351.8 457.0,345.4 459.0,341.2 461.0,340.2 463.0,340.0 465.0,340.1 467.0,339.7 469.0,338.9 471.0,338.3 474.0,338.3 476.0,338.0 478.0,336.0 480.0,333.7 482.0,332.0 484.0,331.0 486.0,331.0 488.0,329.5 490.0,328.7 493.0,328.5 495.0,328.4 497.0,328.2 499.0,330.4 501.0,332.7 503.0,333.0 505.0,332.1 507.0,330.6 510.0,328.4 512.0,328.1 514.0,328.1 516.0,327.7 518.0,327.3 520.0,326.5 522.0,325.6 524.0,324.5 526.0,325.9 529.0,327.6 531.0,328.3 533.0,329.3 535.0,332.3 537.0,335.3 539.0,335.9 541.0,336.4" fill="none" stroke="#ff0000" stroke-width="1" />
<rect x="-1" y="456" width="2" height="2" fill="#008000"/>
<rect x="0" y="454" width="1" height="2" fill="#008000"/>
<rect x="0" y="458" width="1" height="2" fill="#008000"/>
<rect x="1" y="454" width="2" height="3" fill="#ff0000"/>
<rect x="2" y="453" width="1" height="1" fill="#ff0000"/>
<rect x="2" y="457" width="1" height="1" fill="#ff0000"/>
<rect x="3" y="455" width="2" height="2" fill="#ff0000"/>
<rect x="5" y="455" width="2" height="3" fill="#ff0000"/>
<rect x="6" y="458" width="1" height="2" fill="#ff0000"/>
<rect x="7" y="458" width="2" height="8" fill="#ff0000"/>
<rect x="8" y="456" width="1" height="2" fill="#ff0000"/>
<rect x="9" y="466" width="2" height="5" fill="#ff0000"/>
<rect x="10" y="464" width="1" height="2" fill="#ff0000"/>
<rect x="10" y="471" width="1" height="2" fill="#ff0000"/>
<rect x="11" y="469" width="2" height="3" fill="#008000"/>
<rect x="12" y="472" width="1" height="2" fill="#008000"/>
<rect x="13" y="467" width="3" height="2" fill="#008000"/>
<rect x="14" y="465" width="1" height="2" fill="#008000"/>
<rect x="14" y="469" width="1" height="1" fill="#008000"/>
<rect x="16" y="463" width="2" height="5" fill="#008000"/>
<rect x="17" y="462" width="1" height="1" fill="#008000"/>
<rect x="17" y="468" width="1" height="1" fill="#008000"/>
<rect x="18" y="459" width="2" height="4" fill="#008000"/>
<rect x="19" y="458" width="1" height="1" fill="#008000"/>
<rect x="19" y="463" width="1" height="2" fill="#008000"/>
<rect x="20" y="459" width="2" height="4" fill="#008000"/>
<rect x="21" y="463" width="1" height="1" fill="#008000"/>
<rect x="22" y="457" width="2" height="3" fill="#ff0000"/>
<rect x="23" y="456" width="1" height="1" fill="#ff0000"/>
<rect x="23" y="460" width="1" height="2" fill="#ff0000"/>
<rect x="24" y="460" width="2" height="2" fill="#008000"/>
<rect x="25" y="459" width="1" height="1" fill="#008000"/>
<rect x="25" y="462" width="1" height="2" fill="#008000"/>
<rect x="26" y="458" width="2" height="3" fill="#008000"/>
<rect x="27" y="461" width="1" height="3" fill="#008000"/>
<rect x="28" y="456" width="2" height="2" fill="#008000"/>
<rect x="29" y="455" width="1" height="1" fill="#008000"/>
<rect x="29" y="458" width="1" height="3" fill="#008000"/>
<rect x="30" y="455" width="2" height="2" fill="#008000"/>
<rect x="31" y="453" width="1" height="2" fill="#008000"/>
<rect x="31" y="457" width="1" height="2" fill="#008000"/>
<rect x="32" y="455" width="3" height="10" fill="#ff0000"/>
<rect x="33" y="454" width="1" height="1" fill="#ff0000"/>
<rect x="35" y="464" width="2" height="6" fill="#ff0000"/>
<rect x="36" y="462" width="1" height="2" fill="#ff0000"/>
<rect x="36" y="470" width="1" height="2" fill="#ff0000"/>
<rect x="37" y="470" width="2" height="2" fill="#ff0000"/>
<rect x="38" y="469" width="1" height="1" fill="#ff0000"/>
<rect x="38" y="472" width="1" height="2" fill="#ff0000"/>
<rect x="39" y="473" width="2" height="2" fill="#ff0000"/>
<rect x="40" y="471" width="1" height="2" fill="#ff0000"/>
<rect x="40" y="475" width="1" height="1" fill="#ff0000"/>
<rect x="41" y="476" width="2" height="1" fill="#ff0000"/>
<rect x="42" y="477" width="1" height="2" fill="#ff0000"/>
<rect x="43" y="479" width="2" height="2" fill="#008000"/>
<rect x="44" y="478" width="1" height="1" fill="#008000"/>
<rect x="44" y="481" width="1" height="2" fill="#008000"/>
<rect x="45" y="480" width="2" height="1" fill="#ff0000"/>
<rect x="46" y="478" width="1" height="2" fill="#ff0000"/>
<rect x="46" y="481" width="1" height="2" fill="#ff0000"/>
<rect x="47" y="478" width="2" height="4" fill="#ff0000"/>
<rect x="48" y="475" width="1" height="3" fill="#ff0000"/>
<rect x="48" y="482" width="1" height="1" fill="#ff0000"/>
<rect x="49" y="478" width="3" height="3" fill="#008000"/>
<rect x="50" y="479" width="1" height="1" fill="#fff"/>
<rect x="50" y="476" width="1" height="2" fill="#008000"/>
<rect x="52" y="476" width="2" height="4" fill="#008000"/>
<rect x="54" y="475" width="2" height="2" fill="#008000"/>
<rect x="55" y="474" width="1" height="1" fill="#008000"/>
<rect x="56" y="473" width="2" height="3" fill="#008000"/>
<rect x="57" y="472" width="1" height="1" fill="#008000"/>
<rect x="57" y="476" width="1" height="2" fill="#008000"/>
<rect x="58" y="471" width="2" height="1" fill="#ff0000"/>
<rect x="59" y="469" width="1" height="2" fill="#ff0000"/>
<rect x="59" y="472" width="1" height="1" fill="#ff0000"/>
<rect x="60" y="472" width="2" height="2" fill="#008000"/>
<rect x="61" y="471" width="1" height="1" fill="#008000"/>
<rect x="61" y="474" width="1" height="2" fill="#008000"/>
<rect x="62" y="472" width="2" height="1" fill="#ff0000"/>
<rect x="63" y="470" width="1" height="2" fill="#ff0000"/>
<rect x="63" y="473" width="1" height="3" fill="#ff0000"/>
<rect x="64" y="473" width="2" height="1" fill="#ff0000"/>
<rect x="65" y="470" width="1" height="3" fill="#ff0000"/>
<rect x="65" y="474" width="1" height="3" fill="#ff0000"/>
<rect x="66" y="474" width="2" height="2" fill="#ff0000"/>
<rect x="67" y="473" width="1" height="1" fill="#ff0000"/>
<rect x="67" y="476" width="1" height="2" fill="#ff0000"/>
<rect x="68" y="476" width="3" height="2" fill="#ff0000"/>
<rect x="69" y="474" width="1" height="2" fill="#ff0000"/>
<rect x="69" y="478" width="1" height="1" fill="#ff0000"/>
<rect x="71" y="468" width="2" height="10" fill="#008000"/>
<rect x="72" y="465" width="1" height="3" fill="#008000"/>
<rect x="72" y="478" width="1" height="1" fill="#008000"/>
<rect x="73" y="468" width="2" height="2" fill="#008000"/>
<rect x="74" y="470" width="1" height="2" fill="#008000"/>
<rect x="75" y="465" width="2" height="3" fill="#ff0000"/>
<rect x="76" y="463" width="1" height="2" fill="#ff0000"/>
<rect x="76" y="468" width="1" height="4" fill="#ff0000"/>
<rect x="77" y="465" width="2" height="4" fill="#ff0000"/>
<rect x="78" y="469" width="1" height="1" fill="#ff0000"/>
<rect x="79" y="468" width="2" height="1" fill="#ff0000"/>
<rect x="80" y="465" width="1" height="3" fill="#ff0000"/>
<rect x="80" y="469" width="1" height="3" fill="#ff0000"/>
<rect x="81" y="469" width="2" height="2" fill="#008000"/>
<rect x="82" y="467" width="1" height="2" fill="#008000"/>
<rect x="82" y="471" width="1" height="2" fill="#008000"/>
<rect x="83" y="468" width="2" height="4" fill="#008000"/>
<rect x="84" y="472" width="1" height="2" fill="#008000"/>
<rect x="85" y="464" width="2" height="4" fill="#ff0000"/>
<rect x="86" y="463" width="1" height="1" fill="#ff0000"/>
<rect x="86" y="468" width="1" height="4" fill="#ff0000"/>
<rect x="87" y="467" width="3" height="4" fill="#008000"/>
<rect x="88" y="468" width="1" height="2" fill="#fff"/>
<rect x="88" y="471" width="1" height="2" fill="#008000"/>
<rect x="90" y="466" width="2" height="4" fill="#008000"/>
<rect x="91" y="464" width="1" height="2" fill="#008000"/>
<rect x="91" y="470" width="1" height="4" fill="#008000"/>
<rect x="92" y="466" width="2" height="1" fill="#008000"/>
<rect x="93" y="467" width="1" height="3" fill="#008000"/>
<rect x="94" y="462" width="2" height="3" fill="#ff0000"/>
<rect x="95" y="460" width="1" height="2" fill="#ff0000"/>
<rect x="95" y="465" width="1" height="1" fill="#ff0000"/>
<rect x="96" y="463" width="2" height="2" fill="#008000"/>
<rect x="97" y="462" width="1" height="1" fill="#008000"/>
<rect x="97" y="465" width="1" height="2" fill="#008000"/>
<rect x="98" y="458" width="2" height="3" fill="#ff0000"/>
<rect x="99" y="461" width="1" height="1" fill="#ff0000"/>
<rect x="100" y="456" width="2" height="5" fill="#008000"/>
<rect x="101" y="454" width="1" height="2" fill="#008000"/>
<rect x="101" y="461" width="1" height="1" fill="#008000"/>
<rect x="102" y="449" width="2" height="7" fill="#008000"/>
<rect x="103" y="447" width="1" height="2" fill="#008000"/>
<rect x="103" y="456" width="1" height="2" fill="#008000"/>
<rect x="104" y="445" width="3" height="4" fill="#008000"/>
<rect x="105" y="446" width="1" height="2" fill="#fff"/>
<rect x="105" y="444" width="1" height="1" fill="#008000"/>
<rect x="105" y="449" width="1" height="2" fill="#008000"/>
<rect x="107" y="443" width="2" height="1" fill="#008000"/>
<rect x="108" y="439" width="1" height="4" fill="#008000"/>
<rect x="108" y="444" width="1" height="2" fill="#008000"/>
<rect x="109" y="441" width="2" height="4" fill="#ff0000"/>
<rect x="110" y="445" width="1" height="1" fill="#ff0000"/>
<rect x="111" y="446" width="2" height="1" fill="#ff0000"/>
<rect x="113" y="447" width="2" height="3" fill="#ff0000"/>
<rect x="114" y="446" width="1" height="1" fill="#ff0000"/>
<rect x="114" y="450" width="1" height="1" fill="#ff0000"/>
<rect x="115" y="448" width="2" height="3" fill="#ff0000"/>
<rect x="116" y="447" width="1" height="1" fill="#ff0000"/>
<rect x="116" y="451" width="1" height="1" fill="#ff0000"/>
<rect x="117" y="449" width="2" height="4" fill="#008000"/>
<rect x="118" y="447" width="1" height="2" fill="#008000"/>
<rect x="119" y="446" width="2" height="3" fill="#ff0000"/>
<rect x="120" y="445" width="1" height="1" fill="#ff0000"/>
<rect x="120" y="449" width="1" height="2" fill="#ff0000"/>
<rect x="121" y="448" width="2" height="2" fill="#ff0000"/>
<rect x="122" y="445" width="1" height="3" fill="#ff0000"/>
<rect x="122" y="450" width="1" height="1" fill="#ff0000"/>
<rect x="123" y="450" width="3" height="7" fill="#ff0000"/>
<rect x="124" y="449" width="1" height="1" fill="#ff0000"/>
<rect x="126" y="457" width="2" height="2" fill="#ff0000"/>
<rect x="127" y="456" width="1" height="1" fill="#ff0000"/>
<rect x="127" y="459" width="1" height="3" fill="#ff0000"/>
<rect x="128" y="459" width="2" height="3" fill="#008000"/>
<rect x="129" y="458" width="1" height="1" fill="#008000"/>
<rect x="129" y="462" width="1" height="2" fill="#008000"/>
<rect x="130" y="458" width="2" height="2" fill="#008000"/>
<rect x="131" y="456" width="1" height="2" fill="#008000"/>
<rect x="131" y="460" width="1" height="1" fill="#008000"/>
<rect x="132" y="455" width="2" height="2" fill="#ff0000"/>
<rect x="133" y="457" width="1" height="2" fill="#ff0000"/>
<rect x="134" y="456" width="2" height="1" fill="#008000"/>
<rect x="135" y="457" width="1" height="1" fill="#008000"/>
<rect x="136" y="454" width="2" height="2" fill="#008000"/>
<rect x="137" y="450" width="1" height="4" fill="#008000"/>
<rect x="138" y="452" width="2" height="3" fill="#008000"/>
<rect x="139" y="450" width="1" height="2" fill="#008000"/>
<rect x="140" y="450" width="2" height="4" fill="#008000"/>
<rect x="142" y="448" width="3" height="4" fill="#008000"/>
<rect x="143" y="449" width="1" height="2" fill="#fff"/>
<rect x="143" y="447" width="1" height="1" fill="#008000"/>
<rect x="145" y="446" width="2" height="2" fill="#008000"/>
<rect x="146" y="445" width="1" height="1" fill="#008000"/>
<rect x="147" y="447" width="2" height="2" fill="#008000"/>
<rect x="148" y="446" width="1" height="1" fill="#008000"/>
<rect x="148" y="449" width="1" height="1" fill="#008000"/>
<rect x="149" y="446" width="2" height="2" fill="#008000"/>
<rect x="150" y="445" width="1" height="1" fill="#008000"/>
<rect x="150" y="448" width="1" height="2" fill="#008000"/>
<rect x="151" y="444" width="2" height="2" fill="#008000"/>
<rect x="152" y="443" width="1" height="1" fill="#008000"/>
<rect x="153" y="443" width="2" height="3" fill="#008000"/>
<rect x="154" y="442" width="1" height="1" fill="#008000"/>
<rect x="154" y="446" width="1" height="2" fill="#008000"/>
<rect x="155" y="442" width="2" height="4" fill="#008000"/>
<rect x="156" y="440" width="1" height="2" fill="#008000"/>
<rect x="156" y="446" width="1" height="3" fill="#008000"/>
<rect x="157" y="439" width="2" height="3" fill="#008000"/>
<rect x="158" y="437" width="1" height="2" fill="#008000"/>
<rect x="158" y="442" width="1" height="1" fill="#008000"/>
<rect x="159" y="436" width="3" height="4" fill="#008000"/>
<rect x="160" y="437" width="1" height="2" fill="#fff"/>
<rect x="160" y="435" width="1" height="1" fill="#008000"/>
<rect x="160" y="440" width="1" height="2" fill="#008000"/>
<rect x="162" y="436" width="2" height="4" fill="#008000"/>
<rect x="163" y="432" width="1" height="4" fill="#008000"/>
<rect x="163" y="440" width="1" height="1" fill="#008000"/>
<rect x="164" y="436" width="2" height="1" fill="#008000"/>
<rect x="165" y="433" width="1" height="3" fill="#008000"/>
<rect x="165" y="437" width="1" height="4" fill="#008000"/>
<rect x="166" y="433" width="2" height="3" fill="#ff0000"/>
<rect x="167" y="436" width="1" height="1" fill="#ff0000"/>
<rect x="168" y="436" width="2" height="1" fill="#ff0000"/>
<rect x="169" y="434" width="1" height="2" fill="#ff0000"/>
<rect x="169" y="437" width="1" height="2" fill="#ff0000"/>
<rect x="170" y="435" width="2" height="1" fill="#ff0000"/>
<rect x="171" y="434" width="1" height="1" fill="#ff0000"/>
<rect x="172" y="435" width="2" height="2" fill="#008000"/>
<rect x="173" y="432" width="1" height="3" fill="#008000"/>
<rect x="173" y="437" width="1" height="2" fill="#008000"/>
<rect x="174" y="434" width="2" height="2" fill="#008000"/>
<rect x="175" y="433" width="1" height="1" fill="#008000"/>
<rect x="176" y="432" width="2" height="2" fill="#ff0000"/>
<rect x="177" y="434" width="1" height="3" fill="#ff0000"/>
<rect x="178" y="431" width="3" height="2" fill="#ff0000"/>
<rect x="179" y="429" width="1" height="2" fill="#ff0000"/>
<rect x="179" y="433" width="1" height="1" fill="#ff0000"/>
<rect x="181" y="432" width="2" height="3" fill="#008000"/>
<rect x="182" y="429" width="1" height="3" fill="#008000"/>
<rect x="183" y="430" width="2" height="4" fill="#ff0000"/>
<rect x="184" y="428" width="1" height="2" fill="#ff0000"/>
<rect x="184" y="434" width="1" height="2" fill="#ff0000"/>
<rect x="185" y="433" width="2" height="3" fill="#ff0000"/>
<rect x="186" y="436" width="1" height="3" fill="#ff0000"/>
<rect x="187" y="433" width="2" height="4" fill="#ff0000"/>
<rect x="188" y="430" width="1" height="3" fill="#ff0000"/>
<rect x="189" y="432" width="2" height="4" fill="#ff0000"/>
<rect x="190" y="429" width="1" height="3" fill="#ff0000"/>
<rect x="190" y="436" width="1" height="1" fill="#ff0000"/>
<rect x="191" y="434" width="2" height="2" fill="#008000"/>
<rect x="192" y="433" width="1" height="1" fill="#008000"/>
<rect x="193" y="432" width="2" height="1" fill="#ff0000"/>
<rect x="194" y="430" width="1" height="2" fill="#ff0000"/>
<rect x="194" y="433" width="1" height="2" fill="#ff0000"/>
<rect x="195" y="432" width="3" height="4" fill="#008000"/>
<rect x="196" y="433" width="1" height="2" fill="#fff"/>
<rect x="196" y="436" width="1" height="2" fill="#008000"/>
<rect x="198" y="429" width="2" height="3" fill="#008000"/>
<rect x="199" y="425" width="1" height="4" fill="#008000"/>
<rect x="199" y="432" width="1" height="2" fill="#008000"/>
<rect x="200" y="428" width="2" height="3" fill="#008000"/>
<rect x="201" y="425" width="1" height="3" fill="#008000"/>
<rect x="202" y="429" width="2" height="4" fill="#008000"/>
<rect x="203" y="428" width="1" height="1" fill="#008000"/>
<rect x="203" y="433" width="1" height="4" fill="#008000"/>
<rect x="204" y="427" width="2" height="3" fill="#ff0000"/>
<rect x="205" y="430" width="1" height="2" fill="#ff0000"/>
<rect x="206" y="427" width="2" height="4" fill="#ff0000"/>
<rect x="207" y="424" width="1" height="3" fill="#ff0000"/>
<rect x="207" y="431" width="1" height="4" fill="#ff0000"/>
<rect x="208" y="431" width="2" height="3" fill="#ff0000"/>
<rect x="209" y="434" width="1" height="2" fill="#ff0000"/>
<rect x="210" y="431" width="2" height="5" fill="#ff0000"/>
<rect x="212" y="431" width="2" height="5" fill="#ff0000"/>
<rect x="213" y="430" width="1" height="1" fill="#ff0000"/>
<rect x="213" y="436" width="1" height="1" fill="#ff0000"/>
<rect x="214" y="435" width="3" height="2" fill="#ff0000"/>
<rect x="215" y="434" width="1" height="1" fill="#ff0000"/>
<rect x="215" y="437" width="1" height="1" fill="#ff0000"/>
<rect x="217" y="436" width="2" height="3" fill="#008000"/>
<rect x="218" y="439" width="1" height="2" fill="#008000"/>
<rect x="219" y="433" width="2" height="4" fill="#ff0000"/>
<rect x="220" y="432" width="1" height="1" fill="#ff0000"/>
<rect x="220" y="437" width="1" height="3" fill="#ff0000"/>
<rect x="221" y="437" width="2" height="2" fill="#008000"/>
<rect x="222" y="435" width="1" height="2" fill="#008000"/>
<rect x="222" y="439" width="1" height="1" fill="#008000"/>
<rect x="223" y="436" width="2" height="3" fill="#008000"/>
<rect x="224" y="435" width="1" height="1" fill="#008000"/>
<rect x="225" y="436" width="2" height="2" fill="#008000"/>
<rect x="226" y="434" width="1" height="2" fill="#008000"/>
<rect x="226" y="438" width="1" height="1" fill="#008000"/>
<rect x="227" y="434" width="2" height="3" fill="#ff0000"/>
<rect x="228" y="437" width="1" height="2" fill="#ff0000"/>
<rect x="229" y="433" width="2" height="4" fill="#ff0000"/>
<rect x="230" y="437" width="1" height="2" fill="#ff0000"/>
<rect x="231" y="435" width="2" height="2" fill="#ff0000"/>
<rect x="232" y="433" width="1" height="2" fill="#ff0000"/>
<rect x="232" y="437" width="1" height="1" fill="#ff0000"/>
<rect x="233" y="428" width="3" height="9" fill="#008000"/>
<rect x="234" y="429" width="1" height="7" fill="#fff"/>
<rect x="234" y="427" width="1" height="1" fill="#008000"/>
<rect x="234" y="437" width="1" height="1" fill="#008000"/>
<rect x="236" y="428" width="2" height="4" fill="#ff0000"/>
<rect x="237" y="427" width="1" height="1" fill="#ff0000"/>
<rect x="237" y="432" width="1" height="1" fill="#ff0000"/>
<rect x="238" y="439" width="2" height="13" fill="#ff0000"/>
<rect x="239" y="438" width="1" height="1" fill="#ff0000"/>
<rect x="240" y="444" width="2" height="23" fill="#008000"/>
<rect x="241" y="443" width="1" height="1" fill="#008000"/>
<rect x="241" y="467" width="1" height="1" fill="#008000"/>
<rect x="242" y="449" width="2" height="13" fill="#ff0000"/>
<rect x="243" y="447" width="1" height="2" fill="#ff0000"/>
<rect x="244" y="455" width="2" height="6" fill="#ff0000"/>
<rect x="245" y="453" width="1" height="2" fill="#ff0000"/>
<rect x="245" y="461" width="1" height="17" fill="#ff0000"/>
<rect x="246" y="456" width="2" height="2" fill="#008000"/>
<rect x="247" y="455" width="1" height="1" fill="#008000"/>
<rect x="247" y="458" width="1" height="2" fill="#008000"/>
<rect x="248" y="442" width="2" height="16" fill="#008000"/>
<rect x="249" y="458" width="1" height="1" fill="#008000"/>
<rect x="250" y="441" width="3" height="5" fill="#008000"/>
<rect x="251" y="442" width="1" height="3" fill="#fff"/>
<rect x="251" y="440" width="1" height="1" fill="#008000"/>
<rect x="251" y="446" width="1" height="1" fill="#008000"/>
<rect x="253" y="442" width="2" height="3" fill="#008000"/>
<rect x="254" y="441" width="1" height="1" fill="#008000"/>
<rect x="254" y="445" width="1" height="1" fill="#008000"/>
<rect x="255" y="438" width="2" height="4" fill="#008000"/>
<rect x="256" y="437" width="1" height="1" fill="#008000"/>
<rect x="256" y="442" width="1" height="3" fill="#008000"/>
<rect x="257" y="438" width="2" height="3" fill="#008000"/>
<rect x="258" y="441" width="1" height="3" fill="#008000"/>
<rect x="259" y="435" width="2" height="2" fill="#008000"/>
<rect x="260" y="431" width="1" height="4" fill="#008000"/>
<rect x="260" y="437" width="1" height="1" fill="#008000"/>
<rect x="261" y="424" width="2" height="11" fill="#008000"/>
<rect x="262" y="422" width="1" height="2" fill="#008000"/>
<rect x="262" y="435" width="1" height="3" fill="#008000"/>
<rect x="263" y="420" width="2" height="4" fill="#008000"/>
<rect x="264" y="424" width="1" height="2" fill="#008000"/>
<rect x="265" y="418" width="2" height="5" fill="#ff0000"/>
<rect x="266" y="416" width="1" height="2" fill="#ff0000"/>
<rect x="267" y="423" width="2" height="5" fill="#ff0000"/>
<rect x="268" y="421" width="1" height="2" fill="#ff0000"/>
<rect x="268" y="428" width="1" height="1" fill="#ff0000"/>
<rect x="269" y="431" width="3" height="2" fill="#008000"/>
<rect x="270" y="428" width="1" height="3" fill="#008000"/>
<rect x="272" y="429" width="2" height="4" fill="#ff0000"/>
<rect x="273" y="427" width="1" height="2" fill="#ff0000"/>
<rect x="274" y="431" width="2" height="2" fill="#008000"/>
<rect x="275" y="433" width="1" height="2" fill="#008000"/>
<rect x="276" y="430" width="2" height="4" fill="#008000"/>
<rect x="277" y="428" width="1" height="2" fill="#008000"/>
<rect x="278" y="429" width="2" height="2" fill="#ff0000"/>
<rect x="279" y="428" width="1" height="1" fill="#ff0000"/>
<rect x="279" y="431" width="1" height="2" fill="#ff0000"/>
<rect x="280" y="431" width="2" height="1" fill="#ff0000"/>
<rect x="281" y="429" width="1" height="2" fill="#ff0000"/>
<rect x="281" y="432" width="1" height="2" fill="#ff0000"/>
<rect x="282" y="430" width="2" height="5" fill="#008000"/>
<rect x="283" y="429" width="1" height="1" fill="#008000"/>
<rect x="284" y="428" width="2" height="4" fill="#008000"/>
<rect x="285" y="432" width="1" height="4" fill="#008000"/>
<rect x="286" y="426" width="2" height="2" fill="#008000"/>
<rect x="287" y="423" width="1" height="3" fill="#008000"/>
<rect x="287" y="428" width="1" height="1" fill="#008000"/>
<rect x="288" y="425" width="3" height="4" fill="#008000"/>
<rect x="289" y="426" width="1" height="2" fill="#fff"/>
<rect x="289" y="424" width="1" height="1" fill="#008000"/>
<rect x="289" y="429" width="1" height="1" fill="#008000"/>
<rect x="291" y="422" width="2" height="2" fill="#ff0000"/>
<rect x="292" y="424" width="1" height="1" fill="#ff0000"/>
<rect x="293" y="422" width="2" height="5" fill="#008000"/>
<rect x="294" y="421" width="1" height="1" fill="#008000"/>
<rect x="294" y="427" width="1" height="1" fill="#008000"/>
<rect x="295" y="422" width="2" height="4" fill="#008000"/>
<rect x="296" y="421" width="1" height="1" fill="#008000"/>
<rect x="296" y="426" width="1" height="2" fill="#008000"/>
<rect x="297" y="422" width="2" height="5" fill="#ff0000"/>
<rect x="298" y="421" width="1" height="1" fill="#ff0000"/>
<rect x="299" y="416" width="2" height="11" fill="#008000"/>
<rect x="300" y="427" width="1" height="1" fill="#008000"/>
<rect x="301" y="411" width="2" height="4" fill="#ff0000"/>
<rect x="302" y="408" width="1" height="3" fill="#ff0000"/>
<rect x="303" y="413" width="2" height="3" fill="#ff0000"/>
<rect x="304" y="411" width="1" height="2" fill="#ff0000"/>
<rect x="305" y="413" width="3" height="5" fill="#ff0000"/>
<rect x="306" y="412" width="1" height="1" fill="#ff0000"/>
<rect x="308" y="417" width="2" height="2" fill="#008000"/>
<rect x="309" y="419" width="1" height="2" fill="#008000"/>
<rect x="310" y="416" width="2" height="5" fill="#008000"/>
<rect x="311" y="415" width="1" height="1" fill="#008000"/>
<rect x="311" y="421" width="1" height="3" fill="#008000"/>
<rect x="312" y="415" width="2" height="2" fill="#ff0000"/>
<rect x="313" y="414" width="1" height="1" fill="#ff0000"/>
<rect x="313" y="417" width="1" height="5" fill="#ff0000"/>
<rect x="314" y="417" width="2" height="2" fill="#ff0000"/>
<rect x="315" y="413" width="1" height="4" fill="#ff0000"/>
<rect x="316" y="416" width="2" height="3" fill="#ff0000"/>
<rect x="317" y="419" width="1" height="2" fill="#ff0000"/>
<rect x="318" y="417" width="2" height="4" fill="#008000"/>
<rect x="319" y="415" width="1" height="2" fill="#008000"/>
<rect x="319" y="421" width="1" height="1" fill="#008000"/>
<rect x="320" y="415" width="2" height="5" fill="#008000"/>
<rect x="321" y="414" width="1" height="1" fill="#008000"/>
<rect x="321" y="420" width="1" height="4" fill="#008000"/>
<rect x="322" y="412" width="2" height="5" fill="#ff0000"/>
<rect x="323" y="417" width="1" height="1" fill="#ff0000"/>
<rect x="324" y="413" width="3" height="5" fill="#ff0000"/>
<rect x="325" y="411" width="1" height="2" fill="#ff0000"/>
<rect x="325" y="418" width="1" height="3" fill="#ff0000"/>
<rect x="327" y="415" width="2" height="2" fill="#008000"/>
<rect x="328" y="417" width="1" height="3" fill="#008000"/>
<rect x="329" y="413" width="2" height="4" fill="#008000"/>
<rect x="330" y="412" width="1" height="1" fill="#008000"/>
<rect x="330" y="417" width="1" height="1" fill="#008000"/>
<rect x="331" y="409" width="2" height="4" fill="#008000"/>
<rect x="332" y="407" width="1" height="2" fill="#008000"/>
<rect x="332" y="413" width="1" height="1" fill="#008000"/>
<rect x="333" y="404" width="2" height="5" fill="#008000"/>
<rect x="334" y="403" width="1" height="1" fill="#008000"/>
<rect x="335" y="396" width="2" height="8" fill="#008000"/>
<rect x="336" y="394" width="1" height="2" fill="#008000"/>
<rect x="337" y="393" width="2" height="3" fill="#008000"/>
<rect x="338" y="396" width="1" height="5" fill="#008000"/>
<rect x="339" y="392" width="2" height="2" fill="#008000"/>
<rect x="340" y="389" width="1" height="3" fill="#008000"/>
<rect x="340" y="394" width="1" height="3" fill="#008000"/>
<rect x="341" y="388" width="2" height="4" fill="#008000"/>
<rect x="342" y="383" width="1" height="5" fill="#008000"/>
<rect x="342" y="392" width="1" height="1" fill="#008000"/>
<rect x="343" y="382" width="3" height="6" fill="#008000"/>
<rect x="344" y="383" width="1" height="4" fill="#fff"/>
<rect x="344" y="381" width="1" height="1" fill="#008000"/>
<rect x="344" y="388" width="1" height="1" fill="#008000"/>
<rect x="346" y="379" width="2" height="3" fill="#008000"/>
<rect x="347" y="378" width="1" height="1" fill="#008000"/>
<rect x="347" y="382" width="1" height="2" fill="#008000"/>
<rect x="348" y="378" width="2" height="2" fill="#ff0000"/>
<rect x="349" y="377" width="1" height="1" fill="#ff0000"/>
<rect x="349" y="380" width="1" height="2" fill="#ff0000"/>
<rect x="350" y="380" width="2" height="2" fill="#ff0000"/>
<rect x="351" y="382" width="1" height="3" fill="#ff0000"/>
<rect x="352" y="380" width="2" height="3" fill="#008000"/>
<rect x="353" y="379" width="1" height="1" fill="#008000"/>
<rect x="353" y="383" width="1" height="1" fill="#008000"/>
<rect x="354" y="380" width="2" height="2" fill="#008000"/>
<rect x="355" y="377" width="1" height="3" fill="#008000"/>
<rect x="356" y="375" width="2" height="5" fill="#ff0000"/>
<rect x="357" y="373" width="1" height="2" fill="#ff0000"/>
<rect x="357" y="380" width="1" height="6" fill="#ff0000"/>
<rect x="358" y="378" width="2" height="2" fill="#ff0000"/>
<rect x="359" y="376" width="1" height="2" fill="#ff0000"/>
<rect x="360" y="378" width="3" height="2" fill="#ff0000"/>
<rect x="361" y="377" width="1" height="1" fill="#ff0000"/>
<rect x="361" y="380" width="1" height="5" fill="#ff0000"/>
<rect x="363" y="380" width="2" height="2" fill="#008000"/>
<rect x="364" y="379" width="1" height="1" fill="#008000"/>
<rect x="364" y="382" width="1" height="2" fill="#008000"/>
<rect x="365" y="377" width="2" height="3" fill="#008000"/>
<rect x="366" y="374" width="1" height="3" fill="#008000"/>
<rect x="367" y="373" width="2" height="5" fill="#ff0000"/>
<rect x="368" y="371" width="1" height="2" fill="#ff0000"/>
<rect x="369" y="377" width="2" height="3" fill="#ff0000"/>
<rect x="370" y="375" width="1" height="2" fill="#ff0000"/>
<rect x="370" y="380" width="1" height="4" fill="#ff0000"/>
<rect x="371" y="376" width="2" height="4" fill="#008000"/>
<rect x="372" y="372" width="1" height="4" fill="#008000"/>
<rect x="372" y="380" width="1" height="3" fill="#008000"/>
<rect x="373" y="368" width="2" height="5" fill="#ff0000"/>
<rect x="374" y="366" width="1" height="2" fill="#ff0000"/>
<rect x="374" y="373" width="1" height="4" fill="#ff0000"/>
<rect x="375" y="373" width="2" height="3" fill="#008000"/>
<rect x="376" y="372" width="1" height="1" fill="#008000"/>
<rect x="377" y="368" width="2" height="6" fill="#ff0000"/>
<rect x="378" y="367" width="1" height="1" fill="#ff0000"/>
<rect x="379" y="368" width="3" height="5" fill="#ff0000"/>
<rect x="380" y="373" width="1" height="1" fill="#ff0000"/>
<rect x="382" y="371" width="2" height="2" fill="#ff0000"/>
<rect x="383" y="369" width="1" height="2" fill="#ff0000"/>
<rect x="384" y="372" width="2" height="4" fill="#008000"/>
<rect x="385" y="371" width="1" height="1" fill="#008000"/>
<rect x="386" y="373" width="2" height="4" fill="#008000"/>
<rect x="387" y="369" width="1" height="4" fill="#008000"/>
<rect x="387" y="377" width="1" height="5" fill="#008000"/>
<rect x="388" y="373" width="2" height="5" fill="#008000"/>
<rect x="389" y="371" width="1" height="2" fill="#008000"/>
<rect x="389" y="378" width="1" height="4" fill="#008000"/>
<rect x="390" y="365" width="2" height="8" fill="#008000"/>
<rect x="391" y="363" width="1" height="2" fill="#008000"/>
<rect x="392" y="360" width="2" height="5" fill="#008000"/>
<rect x="393" y="357" width="1" height="3" fill="#008000"/>
<rect x="393" y="365" width="1" height="1" fill="#008000"/>
<rect x="394" y="358" width="2" height="5" fill="#ff0000"/>
<rect x="395" y="363" width="1" height="3" fill="#ff0000"/>
<rect x="396" y="364" width="3" height="6" fill="#008000"/>
<rect x="397" y="365" width="1" height="4" fill="#fff"/>
<rect x="397" y="362" width="1" height="2" fill="#008000"/>
<rect x="397" y="370" width="1" height="6" fill="#008000"/>
<rect x="399" y="363" width="2" height="5" fill="#008000"/>
<rect x="400" y="362" width="1" height="1" fill="#008000"/>
<rect x="400" y="368" width="1" height="4" fill="#008000"/>
<rect x="401" y="364" width="2" height="4" fill="#008000"/>
<rect x="402" y="368" width="1" height="3" fill="#008000"/>
<rect x="403" y="361" width="2" height="4" fill="#ff0000"/>
<rect x="404" y="357" width="1" height="4" fill="#ff0000"/>
<rect x="404" y="365" width="1" height="2" fill="#ff0000"/>
<rect x="405" y="364" width="2" height="2" fill="#ff0000"/>
<rect x="406" y="363" width="1" height="1" fill="#ff0000"/>
<rect x="406" y="366" width="1" height="3" fill="#ff0000"/>
<rect x="407" y="360" width="2" height="6" fill="#008000"/>
<rect x="409" y="357" width="2" height="4" fill="#008000"/>
<rect x="410" y="361" width="1" height="4" fill="#008000"/>
<rect x="411" y="353" width="2" height="5" fill="#ff0000"/>
<rect x="412" y="358" width="1" height="4" fill="#ff0000"/>
<rect x="413" y="354" width="2" height="6" fill="#ff0000"/>
<rect x="414" y="351" width="1" height="3" fill="#ff0000"/>
<rect x="414" y="360" width="1" height="1" fill="#ff0000"/>
<rect x="415" y="350" width="3" height="10" fill="#008000"/>
<rect x="416" y="351" width="1" height="8" fill="#fff"/>
<rect x="416" y="349" width="1" height="1" fill="#008000"/>
<rect x="416" y="360" width="1" height="2" fill="#008000"/>
<rect x="418" y="335" width="2" height="15" fill="#008000"/>
<rect x="419" y="333" width="1" height="2" fill="#008000"/>
<rect x="419" y="350" width="1" height="2" fill="#008000"/>
<rect x="420" y="327" width="2" height="8" fill="#008000"/>
<rect x="421" y="325" width="1" height="2" fill="#008000"/>
<rect x="421" y="335" width="1" height="3" fill="#008000"/>
<rect x="422" y="326" width="2" height="4" fill="#ff0000"/>
<rect x="423" y="325" width="1" height="1" fill="#ff0000"/>
<rect x="423" y="330" width="1" height="1" fill="#ff0000"/>
<rect x="424" y="330" width="2" height="3" fill="#ff0000"/>
<rect x="425" y="325" width="1" height="5" fill="#ff0000"/>
<rect x="425" y="333" width="1" height="2" fill="#ff0000"/>
<rect x="426" y="331" width="2" height="7" fill="#008000"/>
<rect x="427" y="329" width="1" height="2" fill="#008000"/>
<rect x="427" y="338" width="1" height="2" fill="#008000"/>
<rect x="428" y="329" width="2" height="5" fill="#008000"/>
<rect x="429" y="323" width="1" height="6" fill="#008000"/>
<rect x="430" y="320" width="2" height="9" fill="#008000"/>
<rect x="431" y="316" width="1" height="4" fill="#008000"/>
<rect x="431" y="329" width="1" height="2" fill="#008000"/>
<rect x="432" y="321" width="2" height="5" fill="#ff0000"/>
<rect x="433" y="318" width="1" height="3" fill="#ff0000"/>
<rect x="433" y="326" width="1" height="2" fill="#ff0000"/>
<rect x="434" y="326" width="3" height="10" fill="#ff0000"/>
<rect x="435" y="324" width="1" height="2" fill="#ff0000"/>
<rect x="437" y="336" width="2" height="5" fill="#008000"/>
<rect x="438" y="332" width="1" height="4" fill="#008000"/>
<rect x="438" y="341" width="1" height="2" fill="#008000"/>
<rect x="439" y="332" width="2" height="4" fill="#008000"/>
<rect x="440" y="331" width="1" height="1" fill="#008000"/>
<rect x="440" y="336" width="1" height="4" fill="#008000"/>
<rect x="441" y="306" width="2" height="19" fill="#008000"/>
<rect x="442" y="305" width="1" height="1" fill="#008000"/>
<rect x="442" y="325" width="1" height="1" fill="#008000"/>
<rect x="443" y="305" width="2" height="13" fill="#ff0000"/>
<rect x="444" y="296" width="1" height="9" fill="#ff0000"/>
<rect x="444" y="318" width="1" height="12" fill="#ff0000"/>
<rect x="445" y="314" width="2" height="16" fill="#ff0000"/>
<rect x="446" y="313" width="1" height="1" fill="#ff0000"/>
<rect x="446" y="330" width="1" height="14" fill="#ff0000"/>
<rect x="447" y="326" width="2" height="15" fill="#008000"/>
<rect x="448" y="324" width="1" height="2" fill="#008000"/>
<rect x="448" y="341" width="1" height="1" fill="#008000"/>
<rect x="449" y="321" width="2" height="5" fill="#008000"/>
<rect x="450" y="326" width="1" height="2" fill="#008000"/>
<rect x="451" y="320" width="3" height="4" fill="#008000"/>
<rect x="452" y="321" width="1" height="2" fill="#fff"/>
<rect x="452" y="318" width="1" height="2" fill="#008000"/>
<rect x="452" y="324" width="1" height="2" fill="#008000"/>
<rect x="454" y="320" width="2" height="4" fill="#008000"/>
<rect x="455" y="314" width="1" height="6" fill="#008000"/>
<rect x="455" y="324" width="1" height="2" fill="#008000"/>
<rect x="456" y="317" width="2" height="6" fill="#008000"/>
<rect x="457" y="313" width="1" height="4" fill="#008000"/>
<rect x="457" y="323" width="1" height="1" fill="#008000"/>
<rect x="458" y="314" width="2" height="3" fill="#008000"/>
<rect x="459" y="317" width="1" height="3" fill="#008000"/>
<rect x="460" y="312" width="2" height="3" fill="#ff0000"/>
<rect x="461" y="315" width="1" height="4" fill="#ff0000"/>
<rect x="462" y="315" width="2" height="9" fill="#ff0000"/>
<rect x="463" y="312" width="1" height="3" fill="#ff0000"/>
<rect x="463" y="324" width="1" height="4" fill="#ff0000"/>
<rect x="464" y="324" width="2" height="6" fill="#ff0000"/>
<rect x="465" y="320" width="1" height="4" fill="#ff0000"/>
<rect x="465" y="330" width="1" height="2" fill="#ff0000"/>
<rect x="466" y="329" width="2" height="3" fill="#008000"/>
<rect x="467" y="323" width="1" height="6" fill="#008000"/>
<rect x="467" y="332" width="1" height="5" fill="#008000"/>
<rect x="468" y="323" width="2" height="6" fill="#008000"/>
<rect x="469" y="319" width="1" height="4" fill="#008000"/>
<rect x="469" y="329" width="1" height="3" fill="#008000"/>
<rect x="470" y="320" width="3" height="6" fill="#008000"/>
<rect x="471" y="321" width="1" height="4" fill="#fff"/>
<rect x="471" y="326" width="1" height="4" fill="#008000"/>
<rect x="473" y="318" width="2" height="5" fill="#008000"/>
<rect x="474" y="312" width="1" height="6" fill="#008000"/>
<rect x="474" y="323" width="1" height="2" fill="#008000"/>
<rect x="475" y="316" width="2" height="4" fill="#008000"/>
<rect x="476" y="312" width="1" height="4" fill="#008000"/>
<rect x="476" y="320" width="1" height="5" fill="#008000"/>
<rect x="477" y="310" width="2" height="4" fill="#ff0000"/>
<rect x="478" y="309" width="1" height="1" fill="#ff0000"/>
<rect x="478" y="314" width="1" height="3" fill="#ff0000"/>
<rect x="479" y="312" width="2" height="4" fill="#008000"/>
<rect x="480" y="308" width="1" height="4" fill="#008000"/>
<rect x="480" y="316" width="1" height="2" fill="#008000"/>
<rect x="481" y="308" width="2" height="4" fill="#ff0000"/>
<rect x="482" y="306" width="1" height="2" fill="#ff0000"/>
<rect x="482" y="312" width="1" height="4" fill="#ff0000"/>
<rect x="483" y="312" width="2" height="7" fill="#ff0000"/>
<rect x="484" y="305" width="1" height="7" fill="#ff0000"/>
<rect x="484" y="319" width="1" height="3" fill="#ff0000"/>
<rect x="485" y="313" width="2" height="7" fill="#ff0000"/>
<rect x="486" y="320" width="1" height="4" fill="#ff0000"/>
<rect x="487" y="315" width="2" height="5" fill="#008000"/>
<rect x="488" y="314" width="1" height="1" fill="#008000"/>
<rect x="488" y="320" width="1" height="2" fill="#008000"/>
<rect x="489" y="313" width="3" height="7" fill="#008000"/>
<rect x="490" y="314" width="1" height="5" fill="#fff"/>
<rect x="490" y="320" width="1" height="5" fill="#008000"/>
<rect x="492" y="314" width="2" height="4" fill="#008000"/>
<rect x="493" y="318" width="1" height="2" fill="#008000"/>
<rect x="494" y="310" width="2" height="5" fill="#ff0000"/>
<rect x="495" y="306" width="1" height="4" fill="#ff0000"/>
<rect x="495" y="315" width="1" height="5" fill="#ff0000"/>
<rect x="496" y="309" width="2" height="3" fill="#ff0000"/>
<rect x="497" y="304" width="1" height="5" fill="#ff0000"/>
<rect x="498" y="298" width="2" height="15" fill="#008000"/>
<rect x="499" y="290" width="1" height="8" fill="#008000"/>
<rect x="500" y="294" width="2" height="3" fill="#008000"/>
<rect x="501" y="297" width="1" height="4" fill="#008000"/>
<rect x="502" y="294" width="2" height="9" fill="#ff0000"/>
<rect x="503" y="289" width="1" height="5" fill="#ff0000"/>
<rect x="504" y="297" width="2" height="7" fill="#ff0000"/>
<rect x="505" y="296" width="1" height="1" fill="#ff0000"/>
<rect x="505" y="304" width="1" height="3" fill="#ff0000"/>
<rect x="506" y="295" width="3" height="9" fill="#008000"/>
<rect x="507" y="296" width="1" height="7" fill="#fff"/>
<rect x="507" y="294" width="1" height="1" fill="#008000"/>
<rect x="507" y="304" width="1" height="2" fill="#008000"/>
<rect x="509" y="290" width="2" height="6" fill="#ff0000"/>
<rect x="510" y="285" width="1" height="5" fill="#ff0000"/>
<rect x="510" y="296" width="1" height="5" fill="#ff0000"/>
<rect x="511" y="290" width="2" height="7" fill="#008000"/>
<rect x="513" y="286" width="2" height="4" fill="#008000"/>
<rect x="514" y="282" width="1" height="4" fill="#008000"/>
<rect x="514" y="290" width="1" height="7" fill="#008000"/>
<rect x="515" y="284" width="2" height="3" fill="#ff0000"/>
<rect x="516" y="282" width="1" height="2" fill="#ff0000"/>
<rect x="516" y="287" width="1" height="3" fill="#ff0000"/>
<rect x="517" y="278" width="2" height="7" fill="#ff0000"/>
<rect x="519" y="281" width="2" height="7" fill="#ff0000"/>
<rect x="520" y="276" width="1" height="5" fill="#ff0000"/>
<rect x="520" y="288" width="1" height="3" fill="#ff0000"/>
<rect x="521" y="288" width="2" height="5" fill="#ff0000"/>
<rect x="522" y="286" width="1" height="2" fill="#ff0000"/>
<rect x="522" y="293" width="1" height="4" fill="#ff0000"/>
<rect x="523" y="292" width="2" height="6" fill="#ff0000"/>
<rect x="524" y="286" width="1" height="6" fill="#ff0000"/>
<rect x="524" y="298" width="1" height="4" fill="#ff0000"/>
<rect x="525" y="299" width="3" height="26" fill="#ff0000"/>
<rect x="526" y="298" width="1" height="1" fill="#ff0000"/>
<rect x="526" y="325" width="1" height="1" fill="#ff0000"/>
<rect x="528" y="325" width="2" height="2" fill="#ff0000"/>
<rect x="529" y="323" width="1" height="2" fill="#ff0000"/>
<rect x="529" y="327" width="1" height="2" fill="#ff0000"/>
<rect x="530" y="320" width="2" height="8" fill="#008000"/>
<rect x="531" y="319" width="1" height="1" fill="#008000"/>
<rect x="531" y="328" width="1" height="9" fill="#008000"/>
<rect x="532" y="319" width="2" height="6" fill="#008000"/>
<rect x="533" y="318" width="1" height="1" fill="#008000"/>
<rect x="533" y="325" width="1" height="1" fill="#008000"/>
<rect x="534" y="321" width="2" height="9" fill="#ff0000"/>
<rect x="535" y="320" width="1" height="1" fill="#ff0000"/>
<rect x="535" y="330" width="1" height="2" fill="#ff0000"/>
<rect x="536" y="324" width="2" height="8" fill="#ff0000"/>
<rect x="537" y="322" width="1" height="2" fill="#ff0000"/>
<rect x="537" y="332" width="1" height="1" fill="#ff0000"/>
<rect x="538" y="317" width="2" height="16" fill="#008000"/>
<rect x="539" y="313" width="1" height="4" fill="#008000"/>
<rect x="540" y="309" width="2" height="5" fill="#008000"/>
<rect x="541" y="303" width="1" height="6" fill="#008000"/>
<polyline points="0.0,491.8 23.8,487.5 47.7,484.0 71.5,481.1 95.4,477.9 100.0,479.0 115.9,475.7 131.8,471.0 147.7,466.2 163.6,463.0 179.5,459.9 195.4,456.7 200.0,456.3 215.9,453.7 231.8,451.7 247.7,450.6 263.6,447.7 279.5,443.7 295.4,439.7 300.0,439.0 323.8,435.0 339.7,432.1 355.6,427.3 371.5,421.8 387.4,417.0 400.0,413.0 420.0,404.0 440.0,394.5 460.0,384.0 480.0,373.5 487.4,370.0 500.0,362.3 530.9,344.5 541.2,340.5" fill="none" stroke="#ff0000" stroke-width="2" stroke-linejoin="round"/>
<polyline points="0.0,486.3 9.5,482.3 23.8,477.5 33.4,474.4 47.7,471.5 62.0,469.6 78.7,468.4 95.4,468.0 100.0,468.1 115.9,466.2 131.8,464.1 147.7,461.9 163.6,457.5 179.5,451.9 189.0,447.9 195.4,445.5 200.0,445.0 208.0,442.1 223.8,439.4 239.7,437.8 255.6,437.4 271.5,436.2 287.4,435.0 300.0,434.4 315.9,432.1 331.8,428.9 341.3,425.0 352.5,417.0 363.6,411.4 371.5,408.3 382.7,402.7 392.2,397.1 400.0,391.6 410.0,384.0 420.0,377.0 431.8,370.0 441.3,361.5 452.5,355.2 463.6,349.6 474.7,344.1 480.0,339.7 488.0,335.8 497.5,332.3 503.8,327.8 511.8,322.2 519.7,316.7 526.1,314.6 534.0,314.0 541.2,313.5" fill="none" stroke="#000" stroke-width="2" stroke-linejoin="round"/>
<rect x="585" y="300" width="44" height="16" fill="#000"/>
<text x="586.3" y="312.2" font-size="10.7" text-anchor="start" fill="#00ff00" >57200.00</text>
<rect x="580" y="543" width="1" height="110" fill="#000"/>
<rect x="581" y="644" width="3" height="1" fill="#000"/>
<rect x="581" y="633" width="3" height="1" fill="#000"/>
<rect x="581" y="623" width="3" height="1" fill="#000"/>
<rect x="581" y="613" width="3" height="1" fill="#000"/>
<rect x="581" y="603" width="3" height="1" fill="#000"/>
<rect x="581" y="593" width="8" height="1" fill="#000"/>
<rect x="581" y="582" width="3" height="1" fill="#000"/>
<rect x="581" y="572" width="3" height="1" fill="#000"/>
<rect x="581" y="562" width="3" height="1" fill="#000"/>
<rect x="581" y="552" width="3" height="1" fill="#000"/>
<text x="626.55" y="598.7" font-size="12" text-anchor="end" fill="#000"  letter-spacing="0.25">50000</text>
<text x="626.95" y="648.9" font-size="12" text-anchor="end" fill="#000"  letter-spacing="0.25">0</text>
<rect x="-1" y="610" width="2" height="34" fill="#008000"/>
<rect x="1" y="631" width="2" height="13" fill="#008000"/>
<rect x="3" y="632" width="2" height="12" fill="#008000"/>
<rect x="5" y="630" width="2" height="14" fill="#008000"/>
<rect x="7" y="611" width="2" height="33" fill="#008000"/>
<rect x="9" y="634" width="2" height="10" fill="#008000"/>
<rect x="11" y="632" width="2" height="12" fill="#008000"/>
<rect x="13" y="630" width="2" height="14" fill="#008000"/>
<rect x="16" y="628" width="2" height="16" fill="#008000"/>
<rect x="18" y="627" width="2" height="17" fill="#008000"/>
<rect x="20" y="634" width="2" height="10" fill="#008000"/>
<rect x="22" y="627" width="2" height="17" fill="#008000"/>
<rect x="24" y="634" width="2" height="10" fill="#008000"/>
<rect x="26" y="635" width="2" height="9" fill="#008000"/>
<rect x="28" y="628" width="2" height="16" fill="#008000"/>
<rect x="30" y="632" width="2" height="12" fill="#008000"/>
<rect x="32" y="610" width="2" height="34" fill="#008000"/>
<rect x="35" y="627" width="2" height="17" fill="#008000"/>
<rect x="37" y="628" width="2" height="16" fill="#008000"/>
<rect x="39" y="630" width="2" height="14" fill="#008000"/>
<rect x="41" y="630" width="2" height="14" fill="#008000"/>
<rect x="43" y="630" width="2" height="14" fill="#008000"/>
<rect x="45" y="630" width="2" height="14" fill="#008000"/>
<rect x="47" y="636" width="2" height="8" fill="#008000"/>
<rect x="49" y="632" width="2" height="12" fill="#008000"/>
<rect x="52" y="636" width="2" height="8" fill="#008000"/>
<rect x="54" y="634" width="2" height="10" fill="#008000"/>
<rect x="56" y="632" width="2" height="12" fill="#008000"/>
<rect x="58" y="637" width="2" height="7" fill="#008000"/>
<rect x="60" y="635" width="2" height="9" fill="#008000"/>
<rect x="62" y="634" width="2" height="10" fill="#008000"/>
<rect x="64" y="638" width="2" height="6" fill="#008000"/>
<rect x="66" y="634" width="2" height="10" fill="#008000"/>
<rect x="68" y="633" width="2" height="11" fill="#008000"/>
<rect x="71" y="630" width="2" height="14" fill="#008000"/>
<rect x="73" y="637" width="2" height="7" fill="#008000"/>
<rect x="75" y="634" width="2" height="10" fill="#008000"/>
<rect x="77" y="636" width="2" height="8" fill="#008000"/>
<rect x="79" y="639" width="2" height="5" fill="#008000"/>
<rect x="81" y="638" width="2" height="6" fill="#008000"/>
<rect x="83" y="638" width="2" height="6" fill="#008000"/>
<rect x="85" y="639" width="2" height="5" fill="#008000"/>
<rect x="87" y="639" width="2" height="5" fill="#008000"/>
<rect x="90" y="639" width="2" height="5" fill="#008000"/>
<rect x="92" y="639" width="2" height="5" fill="#008000"/>
<rect x="94" y="639" width="2" height="5" fill="#008000"/>
<rect x="96" y="638" width="2" height="6" fill="#008000"/>
<rect x="98" y="638" width="2" height="6" fill="#008000"/>
<rect x="100" y="619" width="2" height="25" fill="#008000"/>
<rect x="102" y="636" width="2" height="8" fill="#008000"/>
<rect x="104" y="635" width="2" height="9" fill="#008000"/>
<rect x="107" y="636" width="2" height="8" fill="#008000"/>
<rect x="109" y="635" width="2" height="9" fill="#008000"/>
<rect x="111" y="637" width="2" height="7" fill="#008000"/>
<rect x="113" y="638" width="2" height="6" fill="#008000"/>
<rect x="115" y="635" width="2" height="9" fill="#008000"/>
<rect x="117" y="636" width="2" height="8" fill="#008000"/>
<rect x="119" y="637" width="2" height="7" fill="#008000"/>
<rect x="121" y="634" width="2" height="10" fill="#008000"/>
<rect x="123" y="627" width="2" height="17" fill="#008000"/>
<rect x="126" y="636" width="2" height="8" fill="#008000"/>
<rect x="128" y="633" width="2" height="11" fill="#008000"/>
<rect x="130" y="638" width="2" height="6" fill="#008000"/>
<rect x="132" y="636" width="2" height="8" fill="#008000"/>
<rect x="134" y="637" width="2" height="7" fill="#008000"/>
<rect x="136" y="638" width="2" height="6" fill="#008000"/>
<rect x="138" y="638" width="2" height="6" fill="#008000"/>
<rect x="140" y="635" width="2" height="9" fill="#008000"/>
<rect x="142" y="634" width="2" height="10" fill="#008000"/>
<rect x="145" y="638" width="2" height="6" fill="#008000"/>
<rect x="147" y="639" width="2" height="5" fill="#008000"/>
<rect x="149" y="635" width="2" height="9" fill="#008000"/>
<rect x="151" y="636" width="2" height="8" fill="#008000"/>
<rect x="153" y="636" width="2" height="8" fill="#008000"/>
<rect x="155" y="638" width="2" height="6" fill="#008000"/>
<rect x="157" y="622" width="2" height="22" fill="#008000"/>
<rect x="159" y="636" width="2" height="8" fill="#008000"/>
<rect x="162" y="636" width="2" height="8" fill="#008000"/>
<rect x="164" y="639" width="2" height="5" fill="#008000"/>
<rect x="166" y="637" width="2" height="7" fill="#008000"/>
<rect x="168" y="636" width="2" height="8" fill="#008000"/>
<rect x="170" y="637" width="2" height="7" fill="#008000"/>
<rect x="172" y="635" width="2" height="9" fill="#008000"/>
<rect x="174" y="638" width="2" height="6" fill="#008000"/>
<rect x="176" y="637" width="2" height="7" fill="#008000"/>
<rect x="178" y="636" width="2" height="8" fill="#008000"/>
<rect x="181" y="638" width="2" height="6" fill="#008000"/>
<rect x="183" y="628" width="2" height="16" fill="#008000"/>
<rect x="185" y="638" width="2" height="6" fill="#008000"/>
<rect x="187" y="634" width="2" height="10" fill="#008000"/>
<rect x="189" y="636" width="2" height="8" fill="#008000"/>
<rect x="191" y="639" width="2" height="5" fill="#008000"/>
<rect x="193" y="638" width="2" height="6" fill="#008000"/>
<rect x="195" y="637" width="2" height="7" fill="#008000"/>
<rect x="198" y="637" width="2" height="7" fill="#008000"/>
<rect x="200" y="628" width="2" height="16" fill="#008000"/>
<rect x="202" y="636" width="2" height="8" fill="#008000"/>
<rect x="204" y="634" width="2" height="10" fill="#008000"/>
<rect x="206" y="627" width="2" height="17" fill="#008000"/>
<rect x="208" y="638" width="2" height="6" fill="#008000"/>
<rect x="210" y="636" width="2" height="8" fill="#008000"/>
<rect x="212" y="637" width="2" height="7" fill="#008000"/>
<rect x="214" y="631" width="2" height="13" fill="#008000"/>
<rect x="217" y="634" width="2" height="10" fill="#008000"/>
<rect x="219" y="635" width="2" height="9" fill="#008000"/>
<rect x="221" y="635" width="2" height="9" fill="#008000"/>
<rect x="223" y="638" width="2" height="6" fill="#008000"/>
<rect x="225" y="638" width="2" height="6" fill="#008000"/>
<rect x="227" y="638" width="2" height="6" fill="#008000"/>
<rect x="229" y="638" width="2" height="6" fill="#008000"/>
<rect x="231" y="635" width="2" height="9" fill="#008000"/>
<rect x="233" y="631" width="2" height="13" fill="#008000"/>
<rect x="236" y="637" width="2" height="7" fill="#008000"/>
<rect x="238" y="551" width="2" height="93" fill="#008000"/>
<rect x="240" y="603" width="2" height="41" fill="#008000"/>
<rect x="242" y="592" width="2" height="52" fill="#008000"/>
<rect x="244" y="612" width="2" height="32" fill="#008000"/>
<rect x="246" y="631" width="2" height="13" fill="#008000"/>
<rect x="248" y="597" width="2" height="47" fill="#008000"/>
<rect x="250" y="624" width="2" height="20" fill="#008000"/>
<rect x="253" y="626" width="2" height="18" fill="#008000"/>
<rect x="255" y="631" width="2" height="13" fill="#008000"/>
<rect x="257" y="629" width="2" height="15" fill="#008000"/>
<rect x="259" y="626" width="2" height="18" fill="#008000"/>
<rect x="261" y="609" width="2" height="35" fill="#008000"/>
<rect x="263" y="611" width="2" height="33" fill="#008000"/>
<rect x="265" y="628" width="2" height="16" fill="#008000"/>
<rect x="267" y="628" width="2" height="16" fill="#008000"/>
<rect x="269" y="624" width="2" height="20" fill="#008000"/>
<rect x="272" y="634" width="2" height="10" fill="#008000"/>
<rect x="274" y="621" width="2" height="23" fill="#008000"/>
<rect x="276" y="638" width="2" height="6" fill="#008000"/>
<rect x="278" y="628" width="2" height="16" fill="#008000"/>
<rect x="280" y="634" width="2" height="10" fill="#008000"/>
<rect x="282" y="631" width="2" height="13" fill="#008000"/>
<rect x="284" y="630" width="2" height="14" fill="#008000"/>
<rect x="286" y="625" width="2" height="19" fill="#008000"/>
<rect x="288" y="634" width="2" height="10" fill="#008000"/>
<rect x="291" y="625" width="2" height="19" fill="#008000"/>
<rect x="293" y="633" width="2" height="11" fill="#008000"/>
<rect x="295" y="629" width="2" height="15" fill="#008000"/>
<rect x="297" y="632" width="2" height="12" fill="#008000"/>
<rect x="299" y="633" width="2" height="11" fill="#008000"/>
<rect x="301" y="604" width="2" height="40" fill="#008000"/>
<rect x="303" y="635" width="2" height="9" fill="#008000"/>
<rect x="305" y="631" width="2" height="13" fill="#008000"/>
<rect x="308" y="632" width="2" height="12" fill="#008000"/>
<rect x="310" y="633" width="2" height="11" fill="#008000"/>
<rect x="312" y="631" width="2" height="13" fill="#008000"/>
<rect x="314" y="634" width="2" height="10" fill="#008000"/>
<rect x="316" y="633" width="2" height="11" fill="#008000"/>
<rect x="318" y="637" width="2" height="7" fill="#008000"/>
<rect x="320" y="634" width="2" height="10" fill="#008000"/>
<rect x="322" y="633" width="2" height="11" fill="#008000"/>
<rect x="324" y="634" width="2" height="10" fill="#008000"/>
<rect x="327" y="627" width="2" height="17" fill="#008000"/>
<rect x="329" y="632" width="2" height="12" fill="#008000"/>
<rect x="331" y="628" width="2" height="16" fill="#008000"/>
<rect x="333" y="632" width="2" height="12" fill="#008000"/>
<rect x="335" y="623" width="2" height="21" fill="#008000"/>
<rect x="337" y="634" width="2" height="10" fill="#008000"/>
<rect x="339" y="636" width="2" height="8" fill="#008000"/>
<rect x="341" y="632" width="2" height="12" fill="#008000"/>
<rect x="343" y="634" width="2" height="10" fill="#008000"/>
<rect x="346" y="637" width="2" height="7" fill="#008000"/>
<rect x="348" y="634" width="2" height="10" fill="#008000"/>
<rect x="350" y="635" width="2" height="9" fill="#008000"/>
<rect x="352" y="635" width="2" height="9" fill="#008000"/>
<rect x="354" y="636" width="2" height="8" fill="#008000"/>
<rect x="356" y="636" width="2" height="8" fill="#008000"/>
<rect x="358" y="638" width="2" height="6" fill="#008000"/>
<rect x="360" y="633" width="2" height="11" fill="#008000"/>
<rect x="363" y="637" width="2" height="7" fill="#008000"/>
<rect x="365" y="635" width="2" height="9" fill="#008000"/>
<rect x="367" y="628" width="2" height="16" fill="#008000"/>
<rect x="369" y="634" width="2" height="10" fill="#008000"/>
<rect x="371" y="635" width="2" height="9" fill="#008000"/>
<rect x="373" y="634" width="2" height="10" fill="#008000"/>
<rect x="375" y="634" width="2" height="10" fill="#008000"/>
<rect x="377" y="638" width="2" height="6" fill="#008000"/>
<rect x="379" y="637" width="2" height="7" fill="#008000"/>
<rect x="382" y="634" width="2" height="10" fill="#008000"/>
<rect x="384" y="634" width="2" height="10" fill="#008000"/>
<rect x="386" y="635" width="2" height="9" fill="#008000"/>
<rect x="388" y="637" width="2" height="7" fill="#008000"/>
<rect x="390" y="617" width="2" height="27" fill="#008000"/>
<rect x="392" y="636" width="2" height="8" fill="#008000"/>
<rect x="394" y="636" width="2" height="8" fill="#008000"/>
<rect x="396" y="628" width="2" height="16" fill="#008000"/>
<rect x="399" y="636" width="2" height="8" fill="#008000"/>
<rect x="401" y="633" width="2" height="11" fill="#008000"/>
<rect x="403" y="632" width="2" height="12" fill="#008000"/>
<rect x="405" y="619" width="2" height="25" fill="#008000"/>
<rect x="407" y="636" width="2" height="8" fill="#008000"/>
<rect x="409" y="625" width="2" height="19" fill="#008000"/>
<rect x="411" y="633" width="2" height="11" fill="#008000"/>
<rect x="413" y="635" width="2" height="9" fill="#008000"/>
<rect x="415" y="608" width="2" height="36" fill="#008000"/>
<rect x="418" y="631" width="2" height="13" fill="#008000"/>
<rect x="420" y="632" width="2" height="12" fill="#008000"/>
<rect x="422" y="631" width="2" height="13" fill="#008000"/>
<rect x="424" y="635" width="2" height="9" fill="#008000"/>
<rect x="426" y="633" width="2" height="11" fill="#008000"/>
<rect x="428" y="630" width="2" height="14" fill="#008000"/>
<rect x="430" y="631" width="2" height="13" fill="#008000"/>
<rect x="432" y="633" width="2" height="11" fill="#008000"/>
<rect x="434" y="629" width="2" height="15" fill="#008000"/>
<rect x="437" y="629" width="2" height="15" fill="#008000"/>
<rect x="439" y="618" width="2" height="26" fill="#008000"/>
<rect x="441" y="616" width="2" height="28" fill="#008000"/>
<rect x="443" y="633" width="2" height="11" fill="#008000"/>
<rect x="445" y="621" width="2" height="23" fill="#008000"/>
<rect x="447" y="630" width="2" height="14" fill="#008000"/>
<rect x="449" y="633" width="2" height="11" fill="#008000"/>
<rect x="451" y="627" width="2" height="17" fill="#008000"/>
<rect x="454" y="628" width="2" height="16" fill="#008000"/>
<rect x="456" y="630" width="2" height="14" fill="#008000"/>
<rect x="458" y="629" width="2" height="15" fill="#008000"/>
<rect x="460" y="629" width="2" height="15" fill="#008000"/>
<rect x="462" y="634" width="2" height="10" fill="#008000"/>
<rect x="464" y="631" width="2" height="13" fill="#008000"/>
<rect x="466" y="634" width="2" height="10" fill="#008000"/>
<rect x="468" y="633" width="2" height="11" fill="#008000"/>
<rect x="470" y="636" width="2" height="8" fill="#008000"/>
<rect x="473" y="631" width="2" height="13" fill="#008000"/>
<rect x="475" y="632" width="2" height="12" fill="#008000"/>
<rect x="477" y="631" width="2" height="13" fill="#008000"/>
<rect x="479" y="630" width="2" height="14" fill="#008000"/>
<rect x="481" y="632" width="2" height="12" fill="#008000"/>
<rect x="483" y="633" width="2" height="11" fill="#008000"/>
<rect x="485" y="635" width="2" height="9" fill="#008000"/>
<rect x="487" y="635" width="2" height="9" fill="#008000"/>
<rect x="489" y="638" width="2" height="6" fill="#008000"/>
<rect x="492" y="638" width="2" height="6" fill="#008000"/>
<rect x="494" y="636" width="2" height="8" fill="#008000"/>
<rect x="496" y="635" width="2" height="9" fill="#008000"/>
<rect x="498" y="625" width="2" height="19" fill="#008000"/>
<rect x="500" y="634" width="2" height="10" fill="#008000"/>
<rect x="502" y="634" width="2" height="10" fill="#008000"/>
<rect x="504" y="637" width="2" height="7" fill="#008000"/>
<rect x="506" y="634" width="2" height="10" fill="#008000"/>
<rect x="509" y="638" width="2" height="6" fill="#008000"/>
<rect x="511" y="634" width="2" height="10" fill="#008000"/>
<rect x="513" y="639" width="2" height="5" fill="#008000"/>
<rect x="515" y="636" width="2" height="8" fill="#008000"/>
<rect x="517" y="636" width="2" height="8" fill="#008000"/>
<rect x="519" y="636" width="2" height="8" fill="#008000"/>
<rect x="521" y="637" width="2" height="7" fill="#008000"/>
<rect x="523" y="636" width="2" height="8" fill="#008000"/>
<rect x="525" y="630" width="2" height="14" fill="#008000"/>
<rect x="528" y="631" width="2" height="13" fill="#008000"/>
<rect x="530" y="638" width="2" height="6" fill="#008000"/>
<rect x="532" y="636" width="2" height="8" fill="#008000"/>
<rect x="534" y="637" width="2" height="7" fill="#008000"/>
<rect x="536" y="634" width="2" height="10" fill="#008000"/>
<rect x="538" y="636" width="2" height="8" fill="#008000"/>
<rect x="540" y="637" width="2" height="7" fill="#008000"/>
<polyline points="0.0,624.7 2.0,624.9 4.0,625.1 6.0,625.3 8.0,625.5 10.0,625.7 12.0,625.9 14.0,625.9 17.0,625.9 19.0,625.9 21.0,625.9 23.0,626.0 25.0,626.5 27.0,627.1 29.0,627.5 31.0,627.4 33.0,627.2 36.0,627.1 38.0,627.3 40.0,627.9 42.0,628.5 44.0,629.1 46.0,629.7 48.0,630.3 50.0,630.8 53.0,631.5 55.0,632.0 57.0,632.5 59.0,632.7 61.0,632.8 63.0,633.0 65.0,633.2 67.0,633.3 69.0,633.5 72.0,633.8 74.0,634.2 76.0,634.6 78.0,635.0 80.0,635.4 82.0,635.8 84.0,636.2 86.0,636.6 88.0,636.6 91.0,636.6 93.0,636.6 95.0,636.6 97.0,636.3 99.0,636.0 101.0,635.6 103.0,635.2 105.0,634.9 108.0,634.7 110.0,634.7 112.0,634.6 114.0,634.5 116.0,634.4 118.0,634.3 120.0,634.2 122.0,634.1 124.0,634.0 127.0,633.9 129.0,633.9 131.0,633.8 133.0,633.7 135.0,633.8 137.0,634.0 139.0,634.2 141.0,634.4 143.0,634.6 146.0,634.8 148.0,635.0 150.0,635.2 152.0,635.2 154.0,635.2 156.0,635.2 158.0,635.3 160.0,635.3 163.0,635.3 165.0,635.3 167.0,635.3 169.0,635.3 171.0,635.3 173.0,635.3 175.0,635.4 177.0,635.4 179.0,635.4 182.0,635.0 184.0,634.3 186.0,633.7 188.0,634.1 190.0,634.4 192.0,634.7 194.0,634.6 196.0,634.1 199.0,633.8 201.0,634.0 203.0,634.3 205.0,634.5 207.0,634.7 209.0,634.2 211.0,633.8 213.0,633.5 215.0,633.5 218.0,633.5 220.0,633.5 222.0,633.5 224.0,633.5 226.0,633.5 228.0,633.5 230.0,633.5 232.0,633.5 234.0,633.5 237.0,632.3 239.0,630.0 241.0,628.0 243.0,626.8 245.0,625.6 247.0,624.5 249.0,623.9 251.0,623.8 254.0,623.7 256.0,623.6 258.0,623.2 260.0,622.4 262.0,621.6 264.0,620.8 266.0,620.2 268.0,619.7 270.0,619.1 273.0,618.9 275.0,619.1 277.0,619.3 279.0,620.9 281.0,623.2 283.0,625.1 285.0,626.2 287.0,627.4 289.0,628.4 292.0,629.1 294.0,629.4 296.0,629.3 298.0,629.3 300.0,629.2 302.0,628.4 304.0,629.5 306.0,630.4 309.0,630.7 311.0,631.0 313.0,631.1 315.0,631.1 317.0,631.1 319.0,631.1 321.0,631.1 323.0,631.1 325.0,631.1 328.0,631.1 330.0,631.1 332.0,631.1 334.0,631.1 336.0,631.1 338.0,631.1 340.0,631.1 342.0,631.1 344.0,632.0 347.0,633.0 349.0,633.0 351.0,633.0 353.0,633.0 355.0,633.0 357.0,633.0 359.0,633.0 361.0,633.0 364.0,633.0 366.0,633.0 368.0,633.0 370.0,633.0 372.0,633.1 374.0,633.4 376.0,633.7 378.0,633.7 380.0,633.7 383.0,633.7 385.0,633.7 387.0,633.7 389.0,633.7 391.0,633.7 393.0,633.7 395.0,633.7 397.0,633.4 400.0,632.8 402.0,632.4 404.0,632.0 406.0,631.7 408.0,631.6 410.0,631.5 412.0,631.4 414.0,631.3 416.0,630.1 419.0,629.0 421.0,628.7 423.0,628.4 425.0,628.5 427.0,629.0 429.0,629.4 431.0,629.3 433.0,629.2 435.0,629.1 438.0,629.0 440.0,628.3 442.0,627.5 444.0,627.0 446.0,627.0 448.0,627.0 450.0,627.0 452.0,627.0 455.0,627.2 457.0,627.9 459.0,628.6 461.0,629.2 463.0,629.5 465.0,629.5 467.0,629.6 469.0,629.7 471.0,629.7 474.0,629.8 476.0,629.9 478.0,630.0 480.0,630.5 482.0,631.1 484.0,631.9 486.0,632.9 488.0,633.7 490.0,634.0 493.0,634.4 495.0,634.7 497.0,634.4 499.0,634.1 501.0,633.8 503.0,633.7 505.0,633.8 507.0,633.8 510.0,633.9 512.0,634.0 514.0,634.1 516.0,634.1 518.0,634.2 520.0,634.3 522.0,634.4 524.0,634.6 526.0,634.7 529.0,634.4 531.0,634.2 533.0,634.0 535.0,633.7 537.0,634.0 539.0,634.4 541.0,634.7" fill="none" stroke="#ff0000" stroke-width="2.2" stroke-linejoin="round"/>
<rect x="582" y="639" width="29" height="14" fill="#000"/>
<rect x="583" y="640" width="27" height="13" fill="#fff"/>
<text x="583.9" y="649.0" font-size="9.7" text-anchor="start" fill="#000" >x1000</text>
<rect x="0" y="652" width="580" height="1" fill="#000"/>
<rect x="581" y="653" width="48" height="18" fill="#f0f0f0"/>
<rect x="2" y="653" width="1" height="4" fill="#000"/>
<rect x="12" y="653" width="1" height="4" fill="#000"/>
<rect x="23" y="653" width="1" height="4" fill="#000"/>
<rect x="33" y="653" width="1" height="4" fill="#000"/>
<rect x="44" y="653" width="1" height="4" fill="#000"/>
<rect x="55" y="653" width="1" height="4" fill="#000"/>
<rect x="76" y="653" width="1" height="4" fill="#000"/>
<rect x="86" y="653" width="1" height="4" fill="#000"/>
<rect x="97" y="653" width="1" height="4" fill="#000"/>
<rect x="108" y="653" width="1" height="4" fill="#000"/>
<rect x="116" y="653" width="1" height="4" fill="#000"/>
<rect x="127" y="653" width="1" height="4" fill="#000"/>
<rect x="137" y="653" width="1" height="4" fill="#000"/>
<rect x="159" y="653" width="1" height="4" fill="#000"/>
<rect x="169" y="653" width="1" height="4" fill="#000"/>
<rect x="179" y="653" width="1" height="4" fill="#000"/>
<rect x="201" y="653" width="1" height="4" fill="#000"/>
<rect x="211" y="653" width="1" height="4" fill="#000"/>
<rect x="222" y="653" width="1" height="4" fill="#000"/>
<rect x="232" y="653" width="1" height="4" fill="#000"/>
<rect x="243" y="653" width="1" height="4" fill="#000"/>
<rect x="251" y="653" width="1" height="4" fill="#000"/>
<rect x="262" y="653" width="1" height="4" fill="#000"/>
<rect x="273" y="653" width="1" height="4" fill="#000"/>
<rect x="287" y="653" width="1" height="4" fill="#000"/>
<rect x="298" y="653" width="1" height="4" fill="#000"/>
<rect x="309" y="653" width="1" height="4" fill="#000"/>
<rect x="330" y="653" width="1" height="4" fill="#000"/>
<rect x="340" y="653" width="1" height="4" fill="#000"/>
<rect x="351" y="653" width="1" height="4" fill="#000"/>
<rect x="361" y="653" width="1" height="4" fill="#000"/>
<rect x="372" y="653" width="1" height="4" fill="#000"/>
<rect x="383" y="653" width="1" height="4" fill="#000"/>
<rect x="393" y="653" width="1" height="4" fill="#000"/>
<rect x="404" y="653" width="1" height="4" fill="#000"/>
<rect x="414" y="653" width="1" height="4" fill="#000"/>
<rect x="425" y="653" width="1" height="4" fill="#000"/>
<rect x="435" y="653" width="1" height="4" fill="#000"/>
<rect x="446" y="653" width="1" height="4" fill="#000"/>
<rect x="463" y="653" width="1" height="4" fill="#000"/>
<rect x="474" y="653" width="1" height="4" fill="#000"/>
<rect x="484" y="653" width="1" height="4" fill="#000"/>
<rect x="495" y="653" width="1" height="4" fill="#000"/>
<rect x="505" y="653" width="1" height="4" fill="#000"/>
<rect x="516" y="653" width="1" height="4" fill="#000"/>
<rect x="526" y="653" width="1" height="4" fill="#000"/>
<rect x="538" y="653" width="1" height="4" fill="#000"/>
<rect x="558" y="653" width="1" height="4" fill="#000"/>
<rect x="569" y="653" width="1" height="4" fill="#000"/>
<rect x="579" y="653" width="1" height="4" fill="#000"/>
<rect x="21" y="653" width="1" height="18" fill="#000"/>
<text x="23.3" y="669.2" font-size="12" text-anchor="start" fill="#000" >Nov</text>
<rect x="65" y="653" width="1" height="18" fill="#000"/>
<text x="67.3" y="669.2" font-size="12" text-anchor="start" fill="#000" >Dec</text>
<rect x="112" y="653" width="1" height="18" fill="#000"/>
<text x="114.3" y="669.2" font-size="12" text-anchor="start" fill="#000" >2025</text>
<rect x="148" y="653" width="1" height="18" fill="#000"/>
<text x="150.3" y="669.2" font-size="12" text-anchor="start" fill="#000" >Feb</text>
<rect x="190" y="653" width="1" height="18" fill="#000"/>
<text x="192.3" y="669.2" font-size="12" text-anchor="start" fill="#000" >Mar</text>
<rect x="234" y="653" width="1" height="18" fill="#000"/>
<text x="236.3" y="669.2" font-size="12" text-anchor="start" fill="#000" >Apr</text>
<rect x="277" y="653" width="1" height="18" fill="#000"/>
<text x="279.3" y="669.2" font-size="12" text-anchor="start" fill="#000" >May</text>
<rect x="319" y="653" width="1" height="18" fill="#000"/>
<text x="321.3" y="669.2" font-size="12" text-anchor="start" fill="#000" >Jun</text>
<rect x="363" y="653" width="1" height="18" fill="#000"/>
<text x="365.3" y="669.2" font-size="12" text-anchor="start" fill="#000" >Jul</text>
<rect x="412" y="653" width="1" height="18" fill="#000"/>
<text x="414.3" y="669.2" font-size="12" text-anchor="start" fill="#000" >Aug</text>
<rect x="457" y="653" width="1" height="18" fill="#000"/>
<text x="459.3" y="669.2" font-size="12" text-anchor="start" fill="#000" >Sep</text>
<rect x="499" y="653" width="1" height="18" fill="#000"/>
<text x="501.3" y="669.2" font-size="12" text-anchor="start" fill="#000" >Oct</text>
<rect x="548" y="653" width="1" height="18" fill="#000"/>
<text x="550.3" y="669.2" font-size="12" text-anchor="start" fill="#000" >Nov</text>
</svg>
</body></html>
